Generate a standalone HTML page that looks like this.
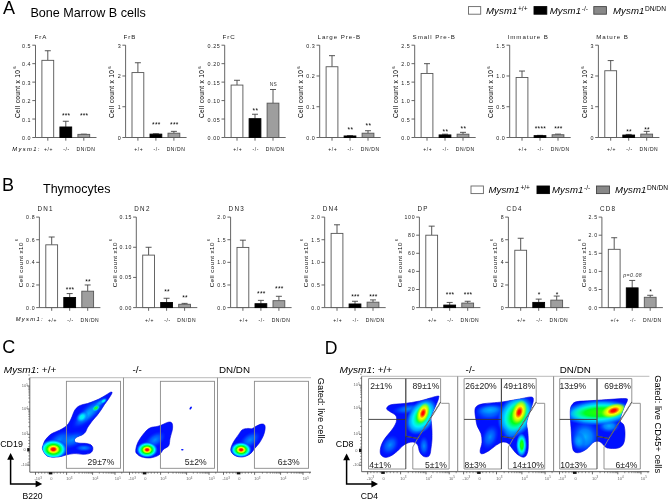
<!DOCTYPE html>
<html><head><meta charset="utf-8"><style>
html,body{margin:0;padding:0;background:#fff;}
svg{display:block;font-family:"Liberation Sans", sans-serif;filter:blur(0.3px);}
</style></head><body>
<svg width="669" height="500" viewBox="0 0 669 500">
<defs><radialGradient id="heat" cx="0.5" cy="0.5" r="0.5"><stop offset="0" stop-color="#ff0000" stop-opacity="1"/><stop offset="0.13" stop-color="#ff1000" stop-opacity="1"/><stop offset="0.21" stop-color="#ff9000" stop-opacity="1"/><stop offset="0.28" stop-color="#ffff00" stop-opacity="1"/><stop offset="0.36" stop-color="#a0ff00" stop-opacity="1"/><stop offset="0.46" stop-color="#00ff00" stop-opacity="1"/><stop offset="0.57" stop-color="#00ff80" stop-opacity="1"/><stop offset="0.69" stop-color="#00ffff" stop-opacity="1"/><stop offset="0.79" stop-color="#00a8ff" stop-opacity="1"/><stop offset="0.89" stop-color="#0060ff" stop-opacity="0.7"/><stop offset="1" stop-color="#0030ff" stop-opacity="0"/></radialGradient><radialGradient id="cyan" cx="0.5" cy="0.5" r="0.5"><stop offset="0" stop-color="#00ffe0" stop-opacity="1"/><stop offset="0.35" stop-color="#00e8ff" stop-opacity="1"/><stop offset="0.65" stop-color="#00a0ff" stop-opacity="0.7"/><stop offset="1" stop-color="#0040ff" stop-opacity="0"/></radialGradient><radialGradient id="lblue" cx="0.5" cy="0.5" r="0.5"><stop offset="0" stop-color="#0090ff" stop-opacity="1"/><stop offset="0.5" stop-color="#0070ff" stop-opacity="0.7"/><stop offset="1" stop-color="#0040ff" stop-opacity="0"/></radialGradient><radialGradient id="green" cx="0.5" cy="0.5" r="0.5"><stop offset="0" stop-color="#60ff00" stop-opacity="1"/><stop offset="0.3" stop-color="#00ff40" stop-opacity="1"/><stop offset="0.6" stop-color="#00f0d0" stop-opacity="0.8"/><stop offset="1" stop-color="#00a0ff" stop-opacity="0"/></radialGradient><radialGradient id="core" cx="0.5" cy="0.5" r="0.5"><stop offset="0" stop-color="#ff0000" stop-opacity="1"/><stop offset="0.3" stop-color="#ff1000" stop-opacity="1"/><stop offset="0.5" stop-color="#ff8000" stop-opacity="1"/><stop offset="0.68" stop-color="#ffff00" stop-opacity="1"/><stop offset="0.84" stop-color="#b0ff00" stop-opacity="0.7"/><stop offset="1" stop-color="#60ff00" stop-opacity="0"/></radialGradient><radialGradient id="core2" cx="0.5" cy="0.5" r="0.5"><stop offset="0" stop-color="#ff0000" stop-opacity="1"/><stop offset="0.18" stop-color="#ff1000" stop-opacity="1"/><stop offset="0.34" stop-color="#ff8000" stop-opacity="1"/><stop offset="0.5" stop-color="#ffff00" stop-opacity="1"/><stop offset="0.72" stop-color="#c0ff00" stop-opacity="0.85"/><stop offset="1" stop-color="#80ff00" stop-opacity="0"/></radialGradient><radialGradient id="lb2" cx="0.5" cy="0.5" r="0.5"><stop offset="0" stop-color="#00b0ff" stop-opacity="1"/><stop offset="0.45" stop-color="#0090ff" stop-opacity="0.85"/><stop offset="1" stop-color="#0050ff" stop-opacity="0"/></radialGradient><radialGradient id="greenb" cx="0.5" cy="0.5" r="0.5"><stop offset="0" stop-color="#30ff00" stop-opacity="1"/><stop offset="0.5" stop-color="#00ff20" stop-opacity="1"/><stop offset="0.75" stop-color="#00ff90" stop-opacity="0.7"/><stop offset="1" stop-color="#00ffd0" stop-opacity="0"/></radialGradient><radialGradient id="cyanb" cx="0.5" cy="0.5" r="0.5"><stop offset="0" stop-color="#00ffe0" stop-opacity="1"/><stop offset="0.55" stop-color="#00f0ff" stop-opacity="1"/><stop offset="0.75" stop-color="#00b0ff" stop-opacity="0.9"/><stop offset="0.9" stop-color="#0070ff" stop-opacity="0.5"/><stop offset="1" stop-color="#0040ff" stop-opacity="0"/></radialGradient><clipPath id="cb1"><path d="M42.60,449.60 C41.88,447.70 42.70,446.47 43.20,444.80 C43.70,443.13 44.22,441.43 45.60,439.60 C46.98,437.77 49.18,435.37 51.50,433.80 C53.82,432.23 57.25,431.33 59.50,430.20 C61.75,429.07 63.50,428.12 65.00,427.00 C66.50,425.88 67.50,424.83 68.50,423.50 C69.50,422.17 70.28,420.50 71.00,419.00 C71.72,417.50 72.25,415.83 72.80,414.50 C73.35,413.17 73.73,412.03 74.30,411.00 C74.87,409.97 75.42,409.13 76.20,408.30 C76.98,407.47 77.87,406.63 79.00,406.00 C80.13,405.37 81.58,404.92 83.00,404.50 C84.42,404.08 85.83,404.00 87.50,403.50 C89.17,403.00 91.08,402.25 93.00,401.50 C94.92,400.75 96.83,400.08 99.00,399.00 C101.17,397.92 104.08,396.13 106.00,395.00 C107.92,393.87 109.50,392.53 110.50,392.20 C111.50,391.87 112.33,391.87 112.00,393.00 C111.67,394.13 109.75,397.08 108.50,399.00 C107.25,400.92 105.75,402.67 104.50,404.50 C103.25,406.33 102.25,408.17 101.00,410.00 C99.75,411.83 98.33,413.83 97.00,415.50 C95.67,417.17 94.17,418.58 93.00,420.00 C91.83,421.42 90.95,422.67 90.00,424.00 C89.05,425.33 88.05,426.67 87.30,428.00 C86.55,429.33 86.38,430.83 85.50,432.00 C84.62,433.17 83.42,434.17 82.00,435.00 C80.58,435.83 78.25,436.25 77.00,437.00 C75.75,437.75 74.75,438.62 74.50,439.50 C74.25,440.38 74.58,441.68 75.50,442.30 C76.42,442.92 78.25,443.02 80.00,443.20 C81.75,443.38 84.25,443.17 86.00,443.40 C87.75,443.63 89.37,443.90 90.50,444.60 C91.63,445.30 92.52,446.50 92.80,447.60 C93.08,448.70 92.83,450.20 92.20,451.20 C91.57,452.20 90.53,453.08 89.00,453.60 C87.47,454.12 85.50,454.30 83.00,454.30 C80.50,454.30 76.83,453.48 74.00,453.60 C71.17,453.72 68.63,454.43 66.00,455.00 C63.37,455.57 61.28,456.80 58.20,457.00 C55.12,457.20 50.10,457.43 47.50,456.20 C44.90,454.97 43.32,451.50 42.60,449.60Z"/></clipPath><clipPath id="cb2"><path d="M135.70,450.40 C135.85,448.37 136.60,444.88 138.10,441.90 C139.60,438.92 142.67,434.85 144.70,432.50 C146.73,430.15 148.27,428.80 150.30,427.80 C152.33,426.80 155.02,426.97 156.90,426.50 C158.78,426.03 159.72,425.72 161.60,425.00 C163.48,424.28 166.48,422.52 168.20,422.20 C169.92,421.88 171.18,422.00 171.90,423.10 C172.62,424.20 172.80,426.28 172.50,428.80 C172.20,431.32 170.73,435.38 170.10,438.20 C169.47,441.02 169.80,443.83 168.70,445.70 C167.60,447.57 165.15,447.83 163.50,449.40 C161.85,450.97 161.00,453.68 158.80,455.10 C156.60,456.52 153.12,457.58 150.30,457.90 C147.48,458.22 144.08,457.63 141.90,457.00 C139.72,456.37 138.23,455.20 137.20,454.10 C136.17,453.00 135.55,452.43 135.70,450.40Z"/></clipPath><clipPath id="cb3"><path d="M230.80,450.40 C230.48,448.30 231.68,445.57 233.00,442.90 C234.32,440.23 237.13,436.60 238.70,434.40 C240.27,432.20 240.83,430.70 242.40,429.70 C243.97,428.70 246.53,428.55 248.10,428.40 C249.67,428.25 250.55,429.12 251.80,428.80 C253.05,428.48 254.03,427.28 255.60,426.50 C257.17,425.72 259.70,424.35 261.20,424.10 C262.70,423.85 263.97,424.07 264.60,425.00 C265.23,425.93 265.25,427.82 265.00,429.70 C264.75,431.58 264.03,434.10 263.10,436.30 C262.17,438.50 260.80,440.87 259.40,442.90 C258.00,444.93 256.27,446.63 254.70,448.50 C253.13,450.37 252.05,452.68 250.00,454.10 C247.95,455.52 244.92,456.77 242.40,457.00 C239.88,457.23 236.83,456.60 234.90,455.50 C232.97,454.40 231.12,452.50 230.80,450.40Z"/></clipPath><clipPath id="db1"><path d="M386.60,408.60 C386.77,407.48 387.87,405.65 390.80,404.80 C393.73,403.95 399.40,404.13 404.20,403.50 C409.00,402.87 414.13,402.22 419.60,401.00 C425.07,399.78 433.83,396.67 437.00,396.20 C440.17,395.73 438.78,396.65 438.60,398.20 C438.42,399.75 436.90,403.10 435.90,405.50 C434.90,407.90 433.42,410.50 432.60,412.60 C431.78,414.70 431.18,416.27 431.00,418.10 C430.82,419.93 431.33,421.40 431.50,423.60 C431.67,425.80 431.92,428.73 432.00,431.30 C432.08,433.87 432.08,436.80 432.00,439.00 C431.92,441.20 431.68,442.83 431.50,444.50 C431.32,446.17 431.12,447.50 430.90,449.00 C430.68,450.50 430.65,452.23 430.20,453.50 C429.75,454.77 429.33,456.13 428.20,456.60 C427.07,457.07 424.83,457.10 423.40,456.30 C421.97,455.50 420.55,453.67 419.60,451.80 C418.65,449.93 418.67,446.70 417.70,445.10 C416.73,443.50 415.57,442.52 413.80,442.20 C412.03,441.88 409.07,442.48 407.10,443.20 C405.13,443.92 403.63,445.17 402.00,446.50 C400.37,447.83 399.22,449.60 397.30,451.20 C395.38,452.80 392.60,455.08 390.50,456.10 C388.40,457.12 386.32,457.57 384.70,457.30 C383.08,457.03 381.53,455.80 380.80,454.50 C380.07,453.20 380.10,451.33 380.30,449.50 C380.50,447.67 381.13,445.48 382.00,443.50 C382.87,441.52 384.00,439.68 385.50,437.60 C387.00,435.52 389.42,433.10 391.00,431.00 C392.58,428.90 394.07,426.83 395.00,425.00 C395.93,423.17 396.50,421.60 396.60,420.00 C396.70,418.40 396.73,416.82 395.60,415.40 C394.47,413.98 391.30,412.63 389.80,411.50 C388.30,410.37 386.43,409.72 386.60,408.60Z"/></clipPath><clipPath id="db2"><path d="M474.90,411.50 C474.98,409.58 474.85,407.98 476.20,406.70 C477.55,405.42 478.67,404.60 483.00,403.80 C487.33,403.00 496.13,402.70 502.20,401.90 C508.27,401.10 514.53,399.82 519.40,399.00 C524.27,398.18 529.08,396.70 531.40,397.00 C533.72,397.30 533.42,398.75 533.30,400.80 C533.18,402.85 531.57,406.58 530.70,409.30 C529.83,412.02 528.78,414.72 528.10,417.10 C527.42,419.48 526.68,421.45 526.60,423.60 C526.52,425.75 527.33,427.60 527.60,430.00 C527.87,432.40 528.12,434.75 528.20,438.00 C528.28,441.25 528.43,446.58 528.10,449.50 C527.77,452.42 527.00,454.22 526.20,455.50 C525.40,456.78 524.43,457.17 523.30,457.20 C522.17,457.23 520.68,456.43 519.40,455.70 C518.12,454.97 516.87,454.08 515.60,452.80 C514.33,451.52 513.08,449.60 511.80,448.00 C510.52,446.40 509.50,444.17 507.90,443.20 C506.30,442.23 504.12,441.88 502.20,442.20 C500.28,442.52 498.65,443.65 496.40,445.10 C494.15,446.55 491.10,449.45 488.70,450.90 C486.30,452.35 483.43,453.80 482.00,453.80 C480.57,453.80 480.10,452.83 480.10,450.90 C480.10,448.97 481.85,445.08 482.00,442.20 C482.15,439.32 481.80,436.32 481.00,433.60 C480.20,430.88 478.08,428.47 477.20,425.90 C476.32,423.33 476.08,420.60 475.70,418.20 C475.32,415.80 474.82,413.42 474.90,411.50Z"/></clipPath><clipPath id="db3"><path d="M570.40,409.40 C570.70,407.00 571.10,405.90 572.20,404.60 C573.30,403.30 573.70,402.27 577.00,401.60 C580.30,400.93 586.33,400.98 592.00,400.60 C597.67,400.22 605.50,399.63 611.00,399.30 C616.50,398.97 622.27,398.42 625.00,398.60 C627.73,398.78 627.60,398.80 627.40,400.40 C627.20,402.00 625.00,404.90 623.80,408.20 C622.60,411.50 620.20,417.40 620.20,420.20 C620.20,423.00 623.00,422.80 623.80,425.00 C624.60,427.20 625.00,430.40 625.00,433.40 C625.00,436.40 624.80,440.60 623.80,443.00 C622.80,445.40 621.20,446.90 619.00,447.80 C616.80,448.70 612.80,448.50 610.60,448.40 C608.40,448.30 607.40,448.20 605.80,447.20 C604.20,446.20 602.50,443.40 601.00,442.40 C599.50,441.40 598.20,441.10 596.80,441.20 C595.40,441.30 594.30,441.70 592.60,443.00 C590.90,444.30 588.80,447.40 586.60,449.00 C584.40,450.60 581.50,452.20 579.40,452.60 C577.30,453.00 575.20,452.60 574.00,451.40 C572.80,450.20 572.60,447.80 572.20,445.40 C571.80,443.00 571.80,440.00 571.60,437.00 C571.40,434.00 571.20,430.40 571.00,427.40 C570.80,424.40 570.50,422.00 570.40,419.00 C570.30,416.00 570.10,411.80 570.40,409.40Z"/></clipPath></defs>
<rect width="669" height="500" fill="#fff"/>
<text x="3.00" y="13.80" text-anchor="start" fill="#000" style="font-size:18px;" >A</text>
<text x="30.40" y="17.10" text-anchor="start" fill="#000" style="font-size:12.6px;" >Bone Marrow B cells</text>
<text x="2.00" y="190.80" text-anchor="start" fill="#000" style="font-size:18px;" >B</text>
<text x="43.00" y="193.20" text-anchor="start" fill="#000" style="font-size:12.5px;" >Thymocytes</text>
<text x="2.20" y="352.80" text-anchor="start" fill="#000" style="font-size:18px;" >C</text>
<text x="324.80" y="353.80" text-anchor="start" fill="#000" style="font-size:17.6px;" >D</text>
<rect x="468.50" y="6.60" width="12.20" height="7.60" fill="#fff" stroke="#666" stroke-width="0.9"/>
<text x="486.00" y="13.80" style="font-size:9.6px;font-style:italic;letter-spacing:0.1px">Mysm1<tspan dx="0.6" dy="-3.3" style="font-size:6.6px;font-style:normal;letter-spacing:0">+/+</tspan></text>
<rect x="534.00" y="6.60" width="12.80" height="7.60" fill="#000" stroke="#000" stroke-width="0.9"/>
<text x="549.70" y="13.80" style="font-size:9.6px;font-style:italic;letter-spacing:0.1px">Mysm1<tspan dx="0.6" dy="-3.3" style="font-size:6.6px;font-style:normal;letter-spacing:0">-/-</tspan></text>
<rect x="593.80" y="6.60" width="12.60" height="7.60" fill="#888" stroke="#444" stroke-width="0.9"/>
<text x="613.00" y="13.80" style="font-size:9.6px;font-style:italic;letter-spacing:0.1px">Mysm1<tspan dx="0.6" dy="-3.3" style="font-size:6.6px;font-style:normal;letter-spacing:0">DN/DN</tspan></text>
<rect x="471.00" y="186.00" width="12.40" height="7.60" fill="#fff" stroke="#666" stroke-width="0.9"/>
<text x="488.40" y="193.20" style="font-size:9.6px;font-style:italic;letter-spacing:0.1px">Mysm1<tspan dx="0.6" dy="-3.3" style="font-size:6.6px;font-style:normal;letter-spacing:0">+/+</tspan></text>
<rect x="537.00" y="186.00" width="12.40" height="7.60" fill="#000" stroke="#000" stroke-width="0.9"/>
<text x="552.00" y="193.20" style="font-size:9.6px;font-style:italic;letter-spacing:0.1px">Mysm1<tspan dx="0.6" dy="-3.3" style="font-size:6.6px;font-style:normal;letter-spacing:0">-/-</tspan></text>
<rect x="596.50" y="186.00" width="13.00" height="7.60" fill="#888" stroke="#444" stroke-width="0.9"/>
<text x="615.10" y="193.20" style="font-size:9.6px;font-style:italic;letter-spacing:0.1px">Mysm1<tspan dx="0.6" dy="-3.3" style="font-size:6.6px;font-style:normal;letter-spacing:0">DN/DN</tspan></text>
<line x1="35.50" y1="45.20" x2="35.50" y2="137.50" stroke="#555" stroke-width="0.9"/>
<line x1="32.30" y1="137.50" x2="35.50" y2="137.50" stroke="#555" stroke-width="0.9"/>
<text x="31.10" y="140.00" text-anchor="end" fill="#222" style="font-size:5.4px;letter-spacing:0.55px;" >0.0</text>
<line x1="32.30" y1="119.04" x2="35.50" y2="119.04" stroke="#555" stroke-width="0.9"/>
<text x="31.10" y="121.54" text-anchor="end" fill="#222" style="font-size:5.4px;letter-spacing:0.55px;" >0.1</text>
<line x1="32.30" y1="100.58" x2="35.50" y2="100.58" stroke="#555" stroke-width="0.9"/>
<text x="31.10" y="103.08" text-anchor="end" fill="#222" style="font-size:5.4px;letter-spacing:0.55px;" >0.2</text>
<line x1="32.30" y1="82.12" x2="35.50" y2="82.12" stroke="#555" stroke-width="0.9"/>
<text x="31.10" y="84.62" text-anchor="end" fill="#222" style="font-size:5.4px;letter-spacing:0.55px;" >0.3</text>
<line x1="32.30" y1="63.66" x2="35.50" y2="63.66" stroke="#555" stroke-width="0.9"/>
<text x="31.10" y="66.16" text-anchor="end" fill="#222" style="font-size:5.4px;letter-spacing:0.55px;" >0.4</text>
<line x1="32.30" y1="45.20" x2="35.50" y2="45.20" stroke="#555" stroke-width="0.9"/>
<text x="31.10" y="47.70" text-anchor="end" fill="#222" style="font-size:5.4px;letter-spacing:0.55px;" >0.5</text>
<line x1="35.50" y1="137.50" x2="96.50" y2="137.50" stroke="#555" stroke-width="0.9"/>
<line x1="47.80" y1="137.50" x2="47.80" y2="140.70" stroke="#555" stroke-width="0.9"/>
<line x1="65.80" y1="137.50" x2="65.80" y2="140.70" stroke="#555" stroke-width="0.9"/>
<line x1="83.80" y1="137.50" x2="83.80" y2="140.70" stroke="#555" stroke-width="0.9"/>
<line x1="47.80" y1="50.74" x2="47.80" y2="60.34" stroke="#444" stroke-width="0.9"/>
<line x1="44.80" y1="50.74" x2="50.80" y2="50.74" stroke="#444" stroke-width="0.9"/>
<rect x="41.90" y="60.34" width="11.80" height="77.16" fill="#fff" stroke="#555" stroke-width="0.9"/>
<line x1="65.80" y1="121.26" x2="65.80" y2="126.98" stroke="#444" stroke-width="0.9"/>
<line x1="62.80" y1="121.26" x2="68.80" y2="121.26" stroke="#444" stroke-width="0.9"/>
<rect x="59.90" y="126.98" width="11.80" height="10.52" fill="#000" stroke="#000" stroke-width="0.9"/>
<line x1="83.80" y1="134.18" x2="83.80" y2="134.36" stroke="#444" stroke-width="0.9"/>
<line x1="80.80" y1="134.18" x2="86.80" y2="134.18" stroke="#444" stroke-width="0.9"/>
<rect x="77.90" y="134.36" width="11.80" height="3.14" fill="#9e9e9e" stroke="#555" stroke-width="0.9"/>
<text x="66.20" y="117.80" text-anchor="middle" fill="#000" style="font-size:6.6px;letter-spacing:0.25px;" >***</text>
<text x="84.20" y="117.80" text-anchor="middle" fill="#000" style="font-size:6.6px;letter-spacing:0.25px;" >***</text>
<text x="34.50" y="39.40" text-anchor="start" fill="#222" style="font-size:6.2px;letter-spacing:0.92px;" >FrA</text>
<text transform="translate(19.70,118.00) rotate(-90)" style="font-size:6.6px;letter-spacing:0.3px" fill="#000">Cell count x 10<tspan dx="1.2" dy="-3.4" style="font-size:4.2px">6</tspan></text>
<line x1="125.60" y1="45.20" x2="125.60" y2="137.50" stroke="#555" stroke-width="0.9"/>
<line x1="122.40" y1="137.50" x2="125.60" y2="137.50" stroke="#555" stroke-width="0.9"/>
<text x="121.20" y="140.00" text-anchor="end" fill="#222" style="font-size:5.4px;letter-spacing:0.55px;" >0</text>
<line x1="122.40" y1="106.73" x2="125.60" y2="106.73" stroke="#555" stroke-width="0.9"/>
<text x="121.20" y="109.23" text-anchor="end" fill="#222" style="font-size:5.4px;letter-spacing:0.55px;" >1</text>
<line x1="122.40" y1="75.97" x2="125.60" y2="75.97" stroke="#555" stroke-width="0.9"/>
<text x="121.20" y="78.47" text-anchor="end" fill="#222" style="font-size:5.4px;letter-spacing:0.55px;" >2</text>
<line x1="122.40" y1="45.20" x2="125.60" y2="45.20" stroke="#555" stroke-width="0.9"/>
<text x="121.20" y="47.70" text-anchor="end" fill="#222" style="font-size:5.4px;letter-spacing:0.55px;" >3</text>
<line x1="125.60" y1="137.50" x2="186.60" y2="137.50" stroke="#555" stroke-width="0.9"/>
<line x1="137.90" y1="137.50" x2="137.90" y2="140.70" stroke="#555" stroke-width="0.9"/>
<line x1="155.90" y1="137.50" x2="155.90" y2="140.70" stroke="#555" stroke-width="0.9"/>
<line x1="173.90" y1="137.50" x2="173.90" y2="140.70" stroke="#555" stroke-width="0.9"/>
<line x1="137.90" y1="62.74" x2="137.90" y2="72.58" stroke="#444" stroke-width="0.9"/>
<line x1="134.90" y1="62.74" x2="140.90" y2="62.74" stroke="#444" stroke-width="0.9"/>
<rect x="132.00" y="72.58" width="11.80" height="64.92" fill="#fff" stroke="#555" stroke-width="0.9"/>
<line x1="155.90" y1="133.81" x2="155.90" y2="134.12" stroke="#444" stroke-width="0.9"/>
<line x1="152.90" y1="133.81" x2="158.90" y2="133.81" stroke="#444" stroke-width="0.9"/>
<rect x="150.00" y="134.12" width="11.80" height="3.38" fill="#000" stroke="#000" stroke-width="0.9"/>
<line x1="173.90" y1="131.35" x2="173.90" y2="133.19" stroke="#444" stroke-width="0.9"/>
<line x1="170.90" y1="131.35" x2="176.90" y2="131.35" stroke="#444" stroke-width="0.9"/>
<rect x="168.00" y="133.19" width="11.80" height="4.31" fill="#9e9e9e" stroke="#555" stroke-width="0.9"/>
<text x="156.30" y="127.40" text-anchor="middle" fill="#000" style="font-size:6.6px;letter-spacing:0.25px;" >***</text>
<text x="174.30" y="127.40" text-anchor="middle" fill="#000" style="font-size:6.6px;letter-spacing:0.25px;" >***</text>
<text x="123.50" y="39.40" text-anchor="start" fill="#222" style="font-size:6.2px;letter-spacing:0.92px;" >FrB</text>
<text transform="translate(114.20,118.00) rotate(-90)" style="font-size:6.6px;letter-spacing:0.3px" fill="#000">Cell count x 10<tspan dx="1.2" dy="-3.4" style="font-size:4.2px">6</tspan></text>
<line x1="224.70" y1="45.20" x2="224.70" y2="137.50" stroke="#555" stroke-width="0.9"/>
<line x1="221.50" y1="137.50" x2="224.70" y2="137.50" stroke="#555" stroke-width="0.9"/>
<text x="220.30" y="140.00" text-anchor="end" fill="#222" style="font-size:5.4px;letter-spacing:0.55px;" >0.00</text>
<line x1="221.50" y1="119.04" x2="224.70" y2="119.04" stroke="#555" stroke-width="0.9"/>
<text x="220.30" y="121.54" text-anchor="end" fill="#222" style="font-size:5.4px;letter-spacing:0.55px;" >0.05</text>
<line x1="221.50" y1="100.58" x2="224.70" y2="100.58" stroke="#555" stroke-width="0.9"/>
<text x="220.30" y="103.08" text-anchor="end" fill="#222" style="font-size:5.4px;letter-spacing:0.55px;" >0.10</text>
<line x1="221.50" y1="82.12" x2="224.70" y2="82.12" stroke="#555" stroke-width="0.9"/>
<text x="220.30" y="84.62" text-anchor="end" fill="#222" style="font-size:5.4px;letter-spacing:0.55px;" >0.15</text>
<line x1="221.50" y1="63.66" x2="224.70" y2="63.66" stroke="#555" stroke-width="0.9"/>
<text x="220.30" y="66.16" text-anchor="end" fill="#222" style="font-size:5.4px;letter-spacing:0.55px;" >0.20</text>
<line x1="221.50" y1="45.20" x2="224.70" y2="45.20" stroke="#555" stroke-width="0.9"/>
<text x="220.30" y="47.70" text-anchor="end" fill="#222" style="font-size:5.4px;letter-spacing:0.55px;" >0.25</text>
<line x1="224.70" y1="137.50" x2="285.70" y2="137.50" stroke="#555" stroke-width="0.9"/>
<line x1="237.00" y1="137.50" x2="237.00" y2="140.70" stroke="#555" stroke-width="0.9"/>
<line x1="255.00" y1="137.50" x2="255.00" y2="140.70" stroke="#555" stroke-width="0.9"/>
<line x1="273.00" y1="137.50" x2="273.00" y2="140.70" stroke="#555" stroke-width="0.9"/>
<line x1="237.00" y1="80.27" x2="237.00" y2="85.07" stroke="#444" stroke-width="0.9"/>
<line x1="234.00" y1="80.27" x2="240.00" y2="80.27" stroke="#444" stroke-width="0.9"/>
<rect x="231.10" y="85.07" width="11.80" height="52.43" fill="#fff" stroke="#555" stroke-width="0.9"/>
<line x1="255.00" y1="114.24" x2="255.00" y2="118.67" stroke="#444" stroke-width="0.9"/>
<line x1="252.00" y1="114.24" x2="258.00" y2="114.24" stroke="#444" stroke-width="0.9"/>
<rect x="249.10" y="118.67" width="11.80" height="18.83" fill="#000" stroke="#000" stroke-width="0.9"/>
<line x1="273.00" y1="89.50" x2="273.00" y2="103.16" stroke="#444" stroke-width="0.9"/>
<line x1="270.00" y1="89.50" x2="276.00" y2="89.50" stroke="#444" stroke-width="0.9"/>
<rect x="267.10" y="103.16" width="11.80" height="34.34" fill="#9e9e9e" stroke="#555" stroke-width="0.9"/>
<text x="255.40" y="113.10" text-anchor="middle" fill="#000" style="font-size:6.6px;letter-spacing:0.25px;" >**</text>
<text x="273.30" y="86.30" text-anchor="middle" fill="#333" style="font-size:4.8px;letter-spacing:0.2px;" >NS</text>
<text x="222.60" y="39.40" text-anchor="start" fill="#222" style="font-size:6.2px;letter-spacing:0.92px;" >FrC</text>
<text transform="translate(204.10,118.00) rotate(-90)" style="font-size:6.6px;letter-spacing:0.3px" fill="#000">Cell count x 10<tspan dx="1.2" dy="-3.4" style="font-size:4.2px">6</tspan></text>
<line x1="319.70" y1="45.20" x2="319.70" y2="137.50" stroke="#555" stroke-width="0.9"/>
<line x1="316.50" y1="137.50" x2="319.70" y2="137.50" stroke="#555" stroke-width="0.9"/>
<text x="315.30" y="140.00" text-anchor="end" fill="#222" style="font-size:5.4px;letter-spacing:0.55px;" >0.0</text>
<line x1="316.50" y1="106.73" x2="319.70" y2="106.73" stroke="#555" stroke-width="0.9"/>
<text x="315.30" y="109.23" text-anchor="end" fill="#222" style="font-size:5.4px;letter-spacing:0.55px;" >0.1</text>
<line x1="316.50" y1="75.97" x2="319.70" y2="75.97" stroke="#555" stroke-width="0.9"/>
<text x="315.30" y="78.47" text-anchor="end" fill="#222" style="font-size:5.4px;letter-spacing:0.55px;" >0.2</text>
<line x1="316.50" y1="45.20" x2="319.70" y2="45.20" stroke="#555" stroke-width="0.9"/>
<text x="315.30" y="47.70" text-anchor="end" fill="#222" style="font-size:5.4px;letter-spacing:0.55px;" >0.3</text>
<line x1="319.70" y1="137.50" x2="380.70" y2="137.50" stroke="#555" stroke-width="0.9"/>
<line x1="332.00" y1="137.50" x2="332.00" y2="140.70" stroke="#555" stroke-width="0.9"/>
<line x1="350.00" y1="137.50" x2="350.00" y2="140.70" stroke="#555" stroke-width="0.9"/>
<line x1="368.00" y1="137.50" x2="368.00" y2="140.70" stroke="#555" stroke-width="0.9"/>
<line x1="332.00" y1="55.66" x2="332.00" y2="66.74" stroke="#444" stroke-width="0.9"/>
<line x1="329.00" y1="55.66" x2="335.00" y2="55.66" stroke="#444" stroke-width="0.9"/>
<rect x="326.10" y="66.74" width="11.80" height="70.76" fill="#fff" stroke="#555" stroke-width="0.9"/>
<line x1="350.00" y1="135.65" x2="350.00" y2="135.96" stroke="#444" stroke-width="0.9"/>
<line x1="347.00" y1="135.65" x2="353.00" y2="135.65" stroke="#444" stroke-width="0.9"/>
<rect x="344.10" y="135.96" width="11.80" height="1.54" fill="#000" stroke="#000" stroke-width="0.9"/>
<line x1="368.00" y1="130.73" x2="368.00" y2="133.19" stroke="#444" stroke-width="0.9"/>
<line x1="365.00" y1="130.73" x2="371.00" y2="130.73" stroke="#444" stroke-width="0.9"/>
<rect x="362.10" y="133.19" width="11.80" height="4.31" fill="#9e9e9e" stroke="#555" stroke-width="0.9"/>
<text x="350.40" y="132.40" text-anchor="middle" fill="#000" style="font-size:6.6px;letter-spacing:0.25px;" >**</text>
<text x="368.40" y="127.60" text-anchor="middle" fill="#000" style="font-size:6.6px;letter-spacing:0.25px;" >**</text>
<text x="317.60" y="39.40" text-anchor="start" fill="#222" style="font-size:6.2px;letter-spacing:0.92px;" >Large Pre-B</text>
<text transform="translate(302.90,118.00) rotate(-90)" style="font-size:6.6px;letter-spacing:0.3px" fill="#000">Cell count x 10<tspan dx="1.2" dy="-3.4" style="font-size:4.2px">6</tspan></text>
<line x1="414.70" y1="45.20" x2="414.70" y2="137.50" stroke="#555" stroke-width="0.9"/>
<line x1="411.50" y1="137.50" x2="414.70" y2="137.50" stroke="#555" stroke-width="0.9"/>
<text x="410.30" y="140.00" text-anchor="end" fill="#222" style="font-size:5.4px;letter-spacing:0.55px;" >0.0</text>
<line x1="411.50" y1="119.04" x2="414.70" y2="119.04" stroke="#555" stroke-width="0.9"/>
<text x="410.30" y="121.54" text-anchor="end" fill="#222" style="font-size:5.4px;letter-spacing:0.55px;" >0.5</text>
<line x1="411.50" y1="100.58" x2="414.70" y2="100.58" stroke="#555" stroke-width="0.9"/>
<text x="410.30" y="103.08" text-anchor="end" fill="#222" style="font-size:5.4px;letter-spacing:0.55px;" >1.0</text>
<line x1="411.50" y1="82.12" x2="414.70" y2="82.12" stroke="#555" stroke-width="0.9"/>
<text x="410.30" y="84.62" text-anchor="end" fill="#222" style="font-size:5.4px;letter-spacing:0.55px;" >1.5</text>
<line x1="411.50" y1="63.66" x2="414.70" y2="63.66" stroke="#555" stroke-width="0.9"/>
<text x="410.30" y="66.16" text-anchor="end" fill="#222" style="font-size:5.4px;letter-spacing:0.55px;" >2.0</text>
<line x1="411.50" y1="45.20" x2="414.70" y2="45.20" stroke="#555" stroke-width="0.9"/>
<text x="410.30" y="47.70" text-anchor="end" fill="#222" style="font-size:5.4px;letter-spacing:0.55px;" >2.5</text>
<line x1="414.70" y1="137.50" x2="475.70" y2="137.50" stroke="#555" stroke-width="0.9"/>
<line x1="427.00" y1="137.50" x2="427.00" y2="140.70" stroke="#555" stroke-width="0.9"/>
<line x1="445.00" y1="137.50" x2="445.00" y2="140.70" stroke="#555" stroke-width="0.9"/>
<line x1="463.00" y1="137.50" x2="463.00" y2="140.70" stroke="#555" stroke-width="0.9"/>
<line x1="427.00" y1="63.66" x2="427.00" y2="73.44" stroke="#444" stroke-width="0.9"/>
<line x1="424.00" y1="63.66" x2="430.00" y2="63.66" stroke="#444" stroke-width="0.9"/>
<rect x="421.10" y="73.44" width="11.80" height="64.06" fill="#fff" stroke="#555" stroke-width="0.9"/>
<line x1="445.00" y1="134.18" x2="445.00" y2="134.92" stroke="#444" stroke-width="0.9"/>
<line x1="442.00" y1="134.18" x2="448.00" y2="134.18" stroke="#444" stroke-width="0.9"/>
<rect x="439.10" y="134.92" width="11.80" height="2.58" fill="#000" stroke="#000" stroke-width="0.9"/>
<line x1="463.00" y1="132.33" x2="463.00" y2="134.18" stroke="#444" stroke-width="0.9"/>
<line x1="460.00" y1="132.33" x2="466.00" y2="132.33" stroke="#444" stroke-width="0.9"/>
<rect x="457.10" y="134.18" width="11.80" height="3.32" fill="#9e9e9e" stroke="#555" stroke-width="0.9"/>
<text x="445.40" y="133.60" text-anchor="middle" fill="#000" style="font-size:6.6px;letter-spacing:0.25px;" >**</text>
<text x="463.40" y="131.40" text-anchor="middle" fill="#000" style="font-size:6.6px;letter-spacing:0.25px;" >**</text>
<text x="412.60" y="39.40" text-anchor="start" fill="#222" style="font-size:6.2px;letter-spacing:0.92px;" >Small Pre-B</text>
<text transform="translate(397.90,118.00) rotate(-90)" style="font-size:6.6px;letter-spacing:0.3px" fill="#000">Cell count x 10<tspan dx="1.2" dy="-3.4" style="font-size:4.2px">6</tspan></text>
<line x1="509.70" y1="45.20" x2="509.70" y2="137.50" stroke="#555" stroke-width="0.9"/>
<line x1="506.50" y1="137.50" x2="509.70" y2="137.50" stroke="#555" stroke-width="0.9"/>
<text x="505.30" y="140.00" text-anchor="end" fill="#222" style="font-size:5.4px;letter-spacing:0.55px;" >0.0</text>
<line x1="506.50" y1="106.73" x2="509.70" y2="106.73" stroke="#555" stroke-width="0.9"/>
<text x="505.30" y="109.23" text-anchor="end" fill="#222" style="font-size:5.4px;letter-spacing:0.55px;" >0.5</text>
<line x1="506.50" y1="75.97" x2="509.70" y2="75.97" stroke="#555" stroke-width="0.9"/>
<text x="505.30" y="78.47" text-anchor="end" fill="#222" style="font-size:5.4px;letter-spacing:0.55px;" >1.0</text>
<line x1="506.50" y1="45.20" x2="509.70" y2="45.20" stroke="#555" stroke-width="0.9"/>
<text x="505.30" y="47.70" text-anchor="end" fill="#222" style="font-size:5.4px;letter-spacing:0.55px;" >1.5</text>
<line x1="509.70" y1="137.50" x2="570.70" y2="137.50" stroke="#555" stroke-width="0.9"/>
<line x1="522.00" y1="137.50" x2="522.00" y2="140.70" stroke="#555" stroke-width="0.9"/>
<line x1="540.00" y1="137.50" x2="540.00" y2="140.70" stroke="#555" stroke-width="0.9"/>
<line x1="558.00" y1="137.50" x2="558.00" y2="140.70" stroke="#555" stroke-width="0.9"/>
<line x1="522.00" y1="71.04" x2="522.00" y2="77.50" stroke="#444" stroke-width="0.9"/>
<line x1="519.00" y1="71.04" x2="525.00" y2="71.04" stroke="#444" stroke-width="0.9"/>
<rect x="516.10" y="77.50" width="11.80" height="60.00" fill="#fff" stroke="#555" stroke-width="0.9"/>
<line x1="540.00" y1="135.35" x2="540.00" y2="135.65" stroke="#444" stroke-width="0.9"/>
<line x1="537.00" y1="135.35" x2="543.00" y2="135.35" stroke="#444" stroke-width="0.9"/>
<rect x="534.10" y="135.65" width="11.80" height="1.85" fill="#000" stroke="#000" stroke-width="0.9"/>
<line x1="558.00" y1="134.12" x2="558.00" y2="134.73" stroke="#444" stroke-width="0.9"/>
<line x1="555.00" y1="134.12" x2="561.00" y2="134.12" stroke="#444" stroke-width="0.9"/>
<rect x="552.10" y="134.73" width="11.80" height="2.77" fill="#9e9e9e" stroke="#555" stroke-width="0.9"/>
<text x="540.40" y="131.20" text-anchor="middle" fill="#000" style="font-size:6.6px;letter-spacing:0.25px;" >****</text>
<text x="558.40" y="131.20" text-anchor="middle" fill="#000" style="font-size:6.6px;letter-spacing:0.25px;" >***</text>
<text x="507.60" y="39.40" text-anchor="start" fill="#222" style="font-size:6.2px;letter-spacing:0.92px;" >Immature B</text>
<text transform="translate(492.90,118.00) rotate(-90)" style="font-size:6.6px;letter-spacing:0.3px" fill="#000">Cell count x 10<tspan dx="1.2" dy="-3.4" style="font-size:4.2px">6</tspan></text>
<line x1="598.40" y1="45.20" x2="598.40" y2="137.50" stroke="#555" stroke-width="0.9"/>
<line x1="595.20" y1="137.50" x2="598.40" y2="137.50" stroke="#555" stroke-width="0.9"/>
<text x="594.00" y="140.00" text-anchor="end" fill="#222" style="font-size:5.4px;letter-spacing:0.55px;" >0</text>
<line x1="595.20" y1="106.73" x2="598.40" y2="106.73" stroke="#555" stroke-width="0.9"/>
<text x="594.00" y="109.23" text-anchor="end" fill="#222" style="font-size:5.4px;letter-spacing:0.55px;" >1</text>
<line x1="595.20" y1="75.97" x2="598.40" y2="75.97" stroke="#555" stroke-width="0.9"/>
<text x="594.00" y="78.47" text-anchor="end" fill="#222" style="font-size:5.4px;letter-spacing:0.55px;" >2</text>
<line x1="595.20" y1="45.20" x2="598.40" y2="45.20" stroke="#555" stroke-width="0.9"/>
<text x="594.00" y="47.70" text-anchor="end" fill="#222" style="font-size:5.4px;letter-spacing:0.55px;" >3</text>
<line x1="598.40" y1="137.50" x2="659.40" y2="137.50" stroke="#555" stroke-width="0.9"/>
<line x1="610.70" y1="137.50" x2="610.70" y2="140.70" stroke="#555" stroke-width="0.9"/>
<line x1="628.70" y1="137.50" x2="628.70" y2="140.70" stroke="#555" stroke-width="0.9"/>
<line x1="646.70" y1="137.50" x2="646.70" y2="140.70" stroke="#555" stroke-width="0.9"/>
<line x1="610.70" y1="60.58" x2="610.70" y2="70.74" stroke="#444" stroke-width="0.9"/>
<line x1="607.70" y1="60.58" x2="613.70" y2="60.58" stroke="#444" stroke-width="0.9"/>
<rect x="604.80" y="70.74" width="11.80" height="66.76" fill="#fff" stroke="#555" stroke-width="0.9"/>
<line x1="628.70" y1="134.42" x2="628.70" y2="135.04" stroke="#444" stroke-width="0.9"/>
<line x1="625.70" y1="134.42" x2="631.70" y2="134.42" stroke="#444" stroke-width="0.9"/>
<rect x="622.80" y="135.04" width="11.80" height="2.46" fill="#000" stroke="#000" stroke-width="0.9"/>
<line x1="646.70" y1="131.35" x2="646.70" y2="134.12" stroke="#444" stroke-width="0.9"/>
<line x1="643.70" y1="131.35" x2="649.70" y2="131.35" stroke="#444" stroke-width="0.9"/>
<rect x="640.80" y="134.12" width="11.80" height="3.38" fill="#9e9e9e" stroke="#555" stroke-width="0.9"/>
<text x="629.10" y="134.00" text-anchor="middle" fill="#000" style="font-size:6.6px;letter-spacing:0.25px;" >**</text>
<text x="647.10" y="131.80" text-anchor="middle" fill="#000" style="font-size:6.6px;letter-spacing:0.25px;" >**</text>
<text x="596.30" y="39.40" text-anchor="start" fill="#222" style="font-size:6.2px;letter-spacing:0.92px;" >Mature B</text>
<text transform="translate(587.30,118.00) rotate(-90)" style="font-size:6.6px;letter-spacing:0.3px" fill="#000">Cell count x 10<tspan dx="1.2" dy="-3.4" style="font-size:4.2px">6</tspan></text>
<line x1="39.40" y1="217.10" x2="39.40" y2="307.60" stroke="#555" stroke-width="0.9"/>
<line x1="36.20" y1="307.60" x2="39.40" y2="307.60" stroke="#555" stroke-width="0.9"/>
<text x="35.20" y="309.55" text-anchor="end" fill="#222" style="font-size:5.2px;letter-spacing:0.65px;" >0.0</text>
<line x1="36.20" y1="284.98" x2="39.40" y2="284.98" stroke="#555" stroke-width="0.9"/>
<text x="35.20" y="286.93" text-anchor="end" fill="#222" style="font-size:5.2px;letter-spacing:0.65px;" >0.2</text>
<line x1="36.20" y1="262.35" x2="39.40" y2="262.35" stroke="#555" stroke-width="0.9"/>
<text x="35.20" y="264.30" text-anchor="end" fill="#222" style="font-size:5.2px;letter-spacing:0.65px;" >0.4</text>
<line x1="36.20" y1="239.72" x2="39.40" y2="239.72" stroke="#555" stroke-width="0.9"/>
<text x="35.20" y="241.67" text-anchor="end" fill="#222" style="font-size:5.2px;letter-spacing:0.65px;" >0.6</text>
<line x1="36.20" y1="217.10" x2="39.40" y2="217.10" stroke="#555" stroke-width="0.9"/>
<text x="35.20" y="219.05" text-anchor="end" fill="#222" style="font-size:5.2px;letter-spacing:0.65px;" >0.8</text>
<line x1="39.40" y1="307.60" x2="100.40" y2="307.60" stroke="#555" stroke-width="0.9"/>
<line x1="51.70" y1="307.60" x2="51.70" y2="310.80" stroke="#555" stroke-width="0.9"/>
<line x1="69.70" y1="307.60" x2="69.70" y2="310.80" stroke="#555" stroke-width="0.9"/>
<line x1="87.70" y1="307.60" x2="87.70" y2="310.80" stroke="#555" stroke-width="0.9"/>
<line x1="51.70" y1="237.01" x2="51.70" y2="244.82" stroke="#444" stroke-width="0.9"/>
<line x1="48.70" y1="237.01" x2="54.70" y2="237.01" stroke="#444" stroke-width="0.9"/>
<rect x="45.80" y="244.82" width="11.80" height="62.78" fill="#fff" stroke="#555" stroke-width="0.9"/>
<line x1="69.70" y1="293.57" x2="69.70" y2="297.53" stroke="#444" stroke-width="0.9"/>
<line x1="66.70" y1="293.57" x2="72.70" y2="293.57" stroke="#444" stroke-width="0.9"/>
<rect x="63.80" y="297.53" width="11.80" height="10.07" fill="#000" stroke="#000" stroke-width="0.9"/>
<line x1="87.70" y1="284.98" x2="87.70" y2="291.20" stroke="#444" stroke-width="0.9"/>
<line x1="84.70" y1="284.98" x2="90.70" y2="284.98" stroke="#444" stroke-width="0.9"/>
<rect x="81.80" y="291.20" width="11.80" height="16.40" fill="#9e9e9e" stroke="#555" stroke-width="0.9"/>
<text x="70.10" y="292.40" text-anchor="middle" fill="#000" style="font-size:6.6px;letter-spacing:0.25px;" >***</text>
<text x="88.10" y="283.60" text-anchor="middle" fill="#000" style="font-size:6.6px;letter-spacing:0.25px;" >**</text>
<text x="37.40" y="210.80" text-anchor="start" fill="#222" style="font-size:6.3px;letter-spacing:1.25px;" >DN1</text>
<text transform="translate(22.60,287.30) rotate(-90)" style="font-size:6.2px;letter-spacing:0.42px" fill="#000">Cell count x10<tspan dx="0.9" dy="-4.6" style="font-size:4.0px">6</tspan></text>
<line x1="136.30" y1="217.10" x2="136.30" y2="307.60" stroke="#555" stroke-width="0.9"/>
<line x1="133.10" y1="307.60" x2="136.30" y2="307.60" stroke="#555" stroke-width="0.9"/>
<text x="132.10" y="309.55" text-anchor="end" fill="#222" style="font-size:5.2px;letter-spacing:0.65px;" >0.00</text>
<line x1="133.10" y1="277.43" x2="136.30" y2="277.43" stroke="#555" stroke-width="0.9"/>
<text x="132.10" y="279.38" text-anchor="end" fill="#222" style="font-size:5.2px;letter-spacing:0.65px;" >0.05</text>
<line x1="133.10" y1="247.27" x2="136.30" y2="247.27" stroke="#555" stroke-width="0.9"/>
<text x="132.10" y="249.22" text-anchor="end" fill="#222" style="font-size:5.2px;letter-spacing:0.65px;" >0.10</text>
<line x1="133.10" y1="217.10" x2="136.30" y2="217.10" stroke="#555" stroke-width="0.9"/>
<text x="132.10" y="219.05" text-anchor="end" fill="#222" style="font-size:5.2px;letter-spacing:0.65px;" >0.15</text>
<line x1="136.30" y1="307.60" x2="197.30" y2="307.60" stroke="#555" stroke-width="0.9"/>
<line x1="148.60" y1="307.60" x2="148.60" y2="310.80" stroke="#555" stroke-width="0.9"/>
<line x1="166.60" y1="307.60" x2="166.60" y2="310.80" stroke="#555" stroke-width="0.9"/>
<line x1="184.60" y1="307.60" x2="184.60" y2="310.80" stroke="#555" stroke-width="0.9"/>
<line x1="148.60" y1="247.27" x2="148.60" y2="255.11" stroke="#444" stroke-width="0.9"/>
<line x1="145.60" y1="247.27" x2="151.60" y2="247.27" stroke="#444" stroke-width="0.9"/>
<rect x="142.70" y="255.11" width="11.80" height="52.49" fill="#fff" stroke="#555" stroke-width="0.9"/>
<line x1="166.60" y1="298.25" x2="166.60" y2="302.47" stroke="#444" stroke-width="0.9"/>
<line x1="163.60" y1="298.25" x2="169.60" y2="298.25" stroke="#444" stroke-width="0.9"/>
<rect x="160.70" y="302.47" width="11.80" height="5.13" fill="#000" stroke="#000" stroke-width="0.9"/>
<line x1="184.60" y1="303.38" x2="184.60" y2="304.28" stroke="#444" stroke-width="0.9"/>
<line x1="181.60" y1="303.38" x2="187.60" y2="303.38" stroke="#444" stroke-width="0.9"/>
<rect x="178.70" y="304.28" width="11.80" height="3.32" fill="#9e9e9e" stroke="#555" stroke-width="0.9"/>
<text x="167.00" y="293.90" text-anchor="middle" fill="#000" style="font-size:6.6px;letter-spacing:0.25px;" >**</text>
<text x="185.00" y="299.90" text-anchor="middle" fill="#000" style="font-size:6.6px;letter-spacing:0.25px;" >**</text>
<text x="134.30" y="210.80" text-anchor="start" fill="#222" style="font-size:6.3px;letter-spacing:1.25px;" >DN2</text>
<text transform="translate(116.50,287.30) rotate(-90)" style="font-size:6.2px;letter-spacing:0.42px" fill="#000">Cell count x10<tspan dx="0.9" dy="-4.6" style="font-size:4.0px">6</tspan></text>
<line x1="230.60" y1="217.10" x2="230.60" y2="307.60" stroke="#555" stroke-width="0.9"/>
<line x1="227.40" y1="307.60" x2="230.60" y2="307.60" stroke="#555" stroke-width="0.9"/>
<text x="226.40" y="309.55" text-anchor="end" fill="#222" style="font-size:5.2px;letter-spacing:0.65px;" >0.0</text>
<line x1="227.40" y1="284.98" x2="230.60" y2="284.98" stroke="#555" stroke-width="0.9"/>
<text x="226.40" y="286.93" text-anchor="end" fill="#222" style="font-size:5.2px;letter-spacing:0.65px;" >0.5</text>
<line x1="227.40" y1="262.35" x2="230.60" y2="262.35" stroke="#555" stroke-width="0.9"/>
<text x="226.40" y="264.30" text-anchor="end" fill="#222" style="font-size:5.2px;letter-spacing:0.65px;" >1.0</text>
<line x1="227.40" y1="239.72" x2="230.60" y2="239.72" stroke="#555" stroke-width="0.9"/>
<text x="226.40" y="241.67" text-anchor="end" fill="#222" style="font-size:5.2px;letter-spacing:0.65px;" >1.5</text>
<line x1="227.40" y1="217.10" x2="230.60" y2="217.10" stroke="#555" stroke-width="0.9"/>
<text x="226.40" y="219.05" text-anchor="end" fill="#222" style="font-size:5.2px;letter-spacing:0.65px;" >2.0</text>
<line x1="230.60" y1="307.60" x2="291.60" y2="307.60" stroke="#555" stroke-width="0.9"/>
<line x1="242.90" y1="307.60" x2="242.90" y2="310.80" stroke="#555" stroke-width="0.9"/>
<line x1="260.90" y1="307.60" x2="260.90" y2="310.80" stroke="#555" stroke-width="0.9"/>
<line x1="278.90" y1="307.60" x2="278.90" y2="310.80" stroke="#555" stroke-width="0.9"/>
<line x1="242.90" y1="240.18" x2="242.90" y2="247.42" stroke="#444" stroke-width="0.9"/>
<line x1="239.90" y1="240.18" x2="245.90" y2="240.18" stroke="#444" stroke-width="0.9"/>
<rect x="237.00" y="247.42" width="11.80" height="60.18" fill="#fff" stroke="#555" stroke-width="0.9"/>
<line x1="260.90" y1="300.36" x2="260.90" y2="303.71" stroke="#444" stroke-width="0.9"/>
<line x1="257.90" y1="300.36" x2="263.90" y2="300.36" stroke="#444" stroke-width="0.9"/>
<rect x="255.00" y="303.71" width="11.80" height="3.89" fill="#000" stroke="#000" stroke-width="0.9"/>
<line x1="278.90" y1="296.29" x2="278.90" y2="300.68" stroke="#444" stroke-width="0.9"/>
<line x1="275.90" y1="296.29" x2="281.90" y2="296.29" stroke="#444" stroke-width="0.9"/>
<rect x="273.00" y="300.68" width="11.80" height="6.92" fill="#9e9e9e" stroke="#555" stroke-width="0.9"/>
<text x="261.30" y="296.20" text-anchor="middle" fill="#000" style="font-size:6.6px;letter-spacing:0.25px;" >***</text>
<text x="279.30" y="291.30" text-anchor="middle" fill="#000" style="font-size:6.6px;letter-spacing:0.25px;" >***</text>
<text x="228.60" y="210.80" text-anchor="start" fill="#222" style="font-size:6.3px;letter-spacing:1.25px;" >DN3</text>
<text transform="translate(214.10,287.30) rotate(-90)" style="font-size:6.2px;letter-spacing:0.42px" fill="#000">Cell count x10<tspan dx="0.9" dy="-4.6" style="font-size:4.0px">6</tspan></text>
<line x1="324.70" y1="217.10" x2="324.70" y2="307.60" stroke="#555" stroke-width="0.9"/>
<line x1="321.50" y1="307.60" x2="324.70" y2="307.60" stroke="#555" stroke-width="0.9"/>
<text x="320.50" y="309.55" text-anchor="end" fill="#222" style="font-size:5.2px;letter-spacing:0.65px;" >0.0</text>
<line x1="321.50" y1="284.98" x2="324.70" y2="284.98" stroke="#555" stroke-width="0.9"/>
<text x="320.50" y="286.93" text-anchor="end" fill="#222" style="font-size:5.2px;letter-spacing:0.65px;" >0.5</text>
<line x1="321.50" y1="262.35" x2="324.70" y2="262.35" stroke="#555" stroke-width="0.9"/>
<text x="320.50" y="264.30" text-anchor="end" fill="#222" style="font-size:5.2px;letter-spacing:0.65px;" >1.0</text>
<line x1="321.50" y1="239.72" x2="324.70" y2="239.72" stroke="#555" stroke-width="0.9"/>
<text x="320.50" y="241.67" text-anchor="end" fill="#222" style="font-size:5.2px;letter-spacing:0.65px;" >1.5</text>
<line x1="321.50" y1="217.10" x2="324.70" y2="217.10" stroke="#555" stroke-width="0.9"/>
<text x="320.50" y="219.05" text-anchor="end" fill="#222" style="font-size:5.2px;letter-spacing:0.65px;" >2.0</text>
<line x1="324.70" y1="307.60" x2="385.70" y2="307.60" stroke="#555" stroke-width="0.9"/>
<line x1="337.00" y1="307.60" x2="337.00" y2="310.80" stroke="#555" stroke-width="0.9"/>
<line x1="355.00" y1="307.60" x2="355.00" y2="310.80" stroke="#555" stroke-width="0.9"/>
<line x1="373.00" y1="307.60" x2="373.00" y2="310.80" stroke="#555" stroke-width="0.9"/>
<line x1="337.00" y1="224.79" x2="337.00" y2="233.39" stroke="#444" stroke-width="0.9"/>
<line x1="334.00" y1="224.79" x2="340.00" y2="224.79" stroke="#444" stroke-width="0.9"/>
<rect x="331.10" y="233.39" width="11.80" height="74.21" fill="#fff" stroke="#555" stroke-width="0.9"/>
<line x1="355.00" y1="301.27" x2="355.00" y2="303.98" stroke="#444" stroke-width="0.9"/>
<line x1="352.00" y1="301.27" x2="358.00" y2="301.27" stroke="#444" stroke-width="0.9"/>
<rect x="349.10" y="303.98" width="11.80" height="3.62" fill="#000" stroke="#000" stroke-width="0.9"/>
<line x1="373.00" y1="299.91" x2="373.00" y2="302.17" stroke="#444" stroke-width="0.9"/>
<line x1="370.00" y1="299.91" x2="376.00" y2="299.91" stroke="#444" stroke-width="0.9"/>
<rect x="367.10" y="302.17" width="11.80" height="5.43" fill="#9e9e9e" stroke="#555" stroke-width="0.9"/>
<text x="355.40" y="298.80" text-anchor="middle" fill="#000" style="font-size:6.6px;letter-spacing:0.25px;" >***</text>
<text x="373.40" y="298.80" text-anchor="middle" fill="#000" style="font-size:6.6px;letter-spacing:0.25px;" >***</text>
<text x="322.70" y="210.80" text-anchor="start" fill="#222" style="font-size:6.3px;letter-spacing:1.25px;" >DN4</text>
<text transform="translate(307.90,287.30) rotate(-90)" style="font-size:6.2px;letter-spacing:0.42px" fill="#000">Cell count x10<tspan dx="0.9" dy="-4.6" style="font-size:4.0px">6</tspan></text>
<line x1="419.40" y1="217.10" x2="419.40" y2="307.60" stroke="#555" stroke-width="0.9"/>
<line x1="416.20" y1="307.60" x2="419.40" y2="307.60" stroke="#555" stroke-width="0.9"/>
<text x="415.20" y="309.55" text-anchor="end" fill="#222" style="font-size:5.2px;letter-spacing:0.65px;" >0</text>
<line x1="416.20" y1="289.50" x2="419.40" y2="289.50" stroke="#555" stroke-width="0.9"/>
<text x="415.20" y="291.45" text-anchor="end" fill="#222" style="font-size:5.2px;letter-spacing:0.65px;" >20</text>
<line x1="416.20" y1="271.40" x2="419.40" y2="271.40" stroke="#555" stroke-width="0.9"/>
<text x="415.20" y="273.35" text-anchor="end" fill="#222" style="font-size:5.2px;letter-spacing:0.65px;" >40</text>
<line x1="416.20" y1="253.30" x2="419.40" y2="253.30" stroke="#555" stroke-width="0.9"/>
<text x="415.20" y="255.25" text-anchor="end" fill="#222" style="font-size:5.2px;letter-spacing:0.65px;" >60</text>
<line x1="416.20" y1="235.20" x2="419.40" y2="235.20" stroke="#555" stroke-width="0.9"/>
<text x="415.20" y="237.15" text-anchor="end" fill="#222" style="font-size:5.2px;letter-spacing:0.65px;" >80</text>
<line x1="416.20" y1="217.10" x2="419.40" y2="217.10" stroke="#555" stroke-width="0.9"/>
<text x="415.20" y="219.05" text-anchor="end" fill="#222" style="font-size:5.2px;letter-spacing:0.65px;" >100</text>
<line x1="419.40" y1="307.60" x2="480.40" y2="307.60" stroke="#555" stroke-width="0.9"/>
<line x1="431.70" y1="307.60" x2="431.70" y2="310.80" stroke="#555" stroke-width="0.9"/>
<line x1="449.70" y1="307.60" x2="449.70" y2="310.80" stroke="#555" stroke-width="0.9"/>
<line x1="467.70" y1="307.60" x2="467.70" y2="310.80" stroke="#555" stroke-width="0.9"/>
<line x1="431.70" y1="226.15" x2="431.70" y2="235.20" stroke="#444" stroke-width="0.9"/>
<line x1="428.70" y1="226.15" x2="434.70" y2="226.15" stroke="#444" stroke-width="0.9"/>
<rect x="425.80" y="235.20" width="11.80" height="72.40" fill="#fff" stroke="#555" stroke-width="0.9"/>
<line x1="449.70" y1="302.44" x2="449.70" y2="305.07" stroke="#444" stroke-width="0.9"/>
<line x1="446.70" y1="302.44" x2="452.70" y2="302.44" stroke="#444" stroke-width="0.9"/>
<rect x="443.80" y="305.07" width="11.80" height="2.53" fill="#000" stroke="#000" stroke-width="0.9"/>
<line x1="467.70" y1="301.27" x2="467.70" y2="303.08" stroke="#444" stroke-width="0.9"/>
<line x1="464.70" y1="301.27" x2="470.70" y2="301.27" stroke="#444" stroke-width="0.9"/>
<rect x="461.80" y="303.08" width="11.80" height="4.52" fill="#9e9e9e" stroke="#555" stroke-width="0.9"/>
<text x="450.10" y="296.70" text-anchor="middle" fill="#000" style="font-size:6.6px;letter-spacing:0.25px;" >***</text>
<text x="468.10" y="296.70" text-anchor="middle" fill="#000" style="font-size:6.6px;letter-spacing:0.25px;" >***</text>
<text x="417.40" y="210.80" text-anchor="start" fill="#222" style="font-size:6.3px;letter-spacing:1.25px;" >DP</text>
<text transform="translate(402.30,287.30) rotate(-90)" style="font-size:6.2px;letter-spacing:0.42px" fill="#000">Cell count x10<tspan dx="0.9" dy="-4.6" style="font-size:4.0px">6</tspan></text>
<line x1="508.40" y1="217.10" x2="508.40" y2="307.60" stroke="#555" stroke-width="0.9"/>
<line x1="505.20" y1="307.60" x2="508.40" y2="307.60" stroke="#555" stroke-width="0.9"/>
<text x="504.20" y="309.55" text-anchor="end" fill="#222" style="font-size:5.2px;letter-spacing:0.65px;" >0</text>
<line x1="505.20" y1="284.98" x2="508.40" y2="284.98" stroke="#555" stroke-width="0.9"/>
<text x="504.20" y="286.93" text-anchor="end" fill="#222" style="font-size:5.2px;letter-spacing:0.65px;" >2</text>
<line x1="505.20" y1="262.35" x2="508.40" y2="262.35" stroke="#555" stroke-width="0.9"/>
<text x="504.20" y="264.30" text-anchor="end" fill="#222" style="font-size:5.2px;letter-spacing:0.65px;" >4</text>
<line x1="505.20" y1="239.72" x2="508.40" y2="239.72" stroke="#555" stroke-width="0.9"/>
<text x="504.20" y="241.67" text-anchor="end" fill="#222" style="font-size:5.2px;letter-spacing:0.65px;" >6</text>
<line x1="505.20" y1="217.10" x2="508.40" y2="217.10" stroke="#555" stroke-width="0.9"/>
<text x="504.20" y="219.05" text-anchor="end" fill="#222" style="font-size:5.2px;letter-spacing:0.65px;" >8</text>
<line x1="508.40" y1="307.60" x2="569.40" y2="307.60" stroke="#555" stroke-width="0.9"/>
<line x1="520.70" y1="307.60" x2="520.70" y2="310.80" stroke="#555" stroke-width="0.9"/>
<line x1="538.70" y1="307.60" x2="538.70" y2="310.80" stroke="#555" stroke-width="0.9"/>
<line x1="556.70" y1="307.60" x2="556.70" y2="310.80" stroke="#555" stroke-width="0.9"/>
<line x1="520.70" y1="238.25" x2="520.70" y2="250.25" stroke="#444" stroke-width="0.9"/>
<line x1="517.70" y1="238.25" x2="523.70" y2="238.25" stroke="#444" stroke-width="0.9"/>
<rect x="514.80" y="250.25" width="11.80" height="57.35" fill="#fff" stroke="#555" stroke-width="0.9"/>
<line x1="538.70" y1="299.12" x2="538.70" y2="302.40" stroke="#444" stroke-width="0.9"/>
<line x1="535.70" y1="299.12" x2="541.70" y2="299.12" stroke="#444" stroke-width="0.9"/>
<rect x="532.80" y="302.40" width="11.80" height="5.20" fill="#000" stroke="#000" stroke-width="0.9"/>
<line x1="556.70" y1="296.06" x2="556.70" y2="300.13" stroke="#444" stroke-width="0.9"/>
<line x1="553.70" y1="296.06" x2="559.70" y2="296.06" stroke="#444" stroke-width="0.9"/>
<rect x="550.80" y="300.13" width="11.80" height="7.47" fill="#9e9e9e" stroke="#555" stroke-width="0.9"/>
<text x="539.10" y="297.30" text-anchor="middle" fill="#000" style="font-size:6.6px;letter-spacing:0.25px;" >*</text>
<text x="557.10" y="296.60" text-anchor="middle" fill="#000" style="font-size:6.6px;letter-spacing:0.25px;" >*</text>
<text x="506.40" y="210.80" text-anchor="start" fill="#222" style="font-size:6.3px;letter-spacing:1.25px;" >CD4</text>
<text transform="translate(497.40,287.30) rotate(-90)" style="font-size:6.2px;letter-spacing:0.42px" fill="#000">Cell count x10<tspan dx="0.9" dy="-4.6" style="font-size:4.0px">6</tspan></text>
<line x1="601.90" y1="217.10" x2="601.90" y2="307.60" stroke="#555" stroke-width="0.9"/>
<line x1="598.70" y1="307.60" x2="601.90" y2="307.60" stroke="#555" stroke-width="0.9"/>
<text x="597.70" y="309.55" text-anchor="end" fill="#222" style="font-size:5.2px;letter-spacing:0.65px;" >0.0</text>
<line x1="598.70" y1="289.50" x2="601.90" y2="289.50" stroke="#555" stroke-width="0.9"/>
<text x="597.70" y="291.45" text-anchor="end" fill="#222" style="font-size:5.2px;letter-spacing:0.65px;" >0.5</text>
<line x1="598.70" y1="271.40" x2="601.90" y2="271.40" stroke="#555" stroke-width="0.9"/>
<text x="597.70" y="273.35" text-anchor="end" fill="#222" style="font-size:5.2px;letter-spacing:0.65px;" >1.0</text>
<line x1="598.70" y1="253.30" x2="601.90" y2="253.30" stroke="#555" stroke-width="0.9"/>
<text x="597.70" y="255.25" text-anchor="end" fill="#222" style="font-size:5.2px;letter-spacing:0.65px;" >1.5</text>
<line x1="598.70" y1="235.20" x2="601.90" y2="235.20" stroke="#555" stroke-width="0.9"/>
<text x="597.70" y="237.15" text-anchor="end" fill="#222" style="font-size:5.2px;letter-spacing:0.65px;" >2.0</text>
<line x1="598.70" y1="217.10" x2="601.90" y2="217.10" stroke="#555" stroke-width="0.9"/>
<text x="597.70" y="219.05" text-anchor="end" fill="#222" style="font-size:5.2px;letter-spacing:0.65px;" >2.5</text>
<line x1="601.90" y1="307.60" x2="662.90" y2="307.60" stroke="#555" stroke-width="0.9"/>
<line x1="614.20" y1="307.60" x2="614.20" y2="310.80" stroke="#555" stroke-width="0.9"/>
<line x1="632.20" y1="307.60" x2="632.20" y2="310.80" stroke="#555" stroke-width="0.9"/>
<line x1="650.20" y1="307.60" x2="650.20" y2="310.80" stroke="#555" stroke-width="0.9"/>
<line x1="614.20" y1="237.73" x2="614.20" y2="249.32" stroke="#444" stroke-width="0.9"/>
<line x1="611.20" y1="237.73" x2="617.20" y2="237.73" stroke="#444" stroke-width="0.9"/>
<rect x="608.30" y="249.32" width="11.80" height="58.28" fill="#fff" stroke="#555" stroke-width="0.9"/>
<line x1="632.20" y1="280.45" x2="632.20" y2="287.87" stroke="#444" stroke-width="0.9"/>
<line x1="629.20" y1="280.45" x2="635.20" y2="280.45" stroke="#444" stroke-width="0.9"/>
<rect x="626.30" y="287.87" width="11.80" height="19.73" fill="#000" stroke="#000" stroke-width="0.9"/>
<line x1="650.20" y1="295.29" x2="650.20" y2="297.28" stroke="#444" stroke-width="0.9"/>
<line x1="647.20" y1="295.29" x2="653.20" y2="295.29" stroke="#444" stroke-width="0.9"/>
<rect x="644.30" y="297.28" width="11.80" height="10.32" fill="#9e9e9e" stroke="#555" stroke-width="0.9"/>
<text x="632.70" y="277.00" text-anchor="middle" fill="#333" style="font-size:5.2px;letter-spacing:0.5px;font-style:italic;" >p=0.08</text>
<text x="650.60" y="293.70" text-anchor="middle" fill="#000" style="font-size:6.6px;letter-spacing:0.25px;" >*</text>
<text x="599.90" y="210.80" text-anchor="start" fill="#222" style="font-size:6.3px;letter-spacing:1.25px;" >CD8</text>
<text transform="translate(585.50,287.30) rotate(-90)" style="font-size:6.2px;letter-spacing:0.42px" fill="#000">Cell count x10<tspan dx="0.9" dy="-4.6" style="font-size:4.0px">6</tspan></text>
<text x="48.60" y="151.40" text-anchor="middle" fill="#111" style="font-size:5.0px;letter-spacing:0.6px;" >+/+</text>
<text x="66.60" y="151.40" text-anchor="middle" fill="#111" style="font-size:5.0px;letter-spacing:0.6px;" >-/-</text>
<text x="86.00" y="151.40" text-anchor="middle" fill="#111" style="font-size:5.0px;letter-spacing:0.62px;" >DN/DN</text>
<text x="138.70" y="151.40" text-anchor="middle" fill="#111" style="font-size:5.0px;letter-spacing:0.6px;" >+/+</text>
<text x="156.70" y="151.40" text-anchor="middle" fill="#111" style="font-size:5.0px;letter-spacing:0.6px;" >-/-</text>
<text x="176.10" y="151.40" text-anchor="middle" fill="#111" style="font-size:5.0px;letter-spacing:0.62px;" >DN/DN</text>
<text x="237.80" y="151.40" text-anchor="middle" fill="#111" style="font-size:5.0px;letter-spacing:0.6px;" >+/+</text>
<text x="255.80" y="151.40" text-anchor="middle" fill="#111" style="font-size:5.0px;letter-spacing:0.6px;" >-/-</text>
<text x="275.20" y="151.40" text-anchor="middle" fill="#111" style="font-size:5.0px;letter-spacing:0.62px;" >DN/DN</text>
<text x="332.80" y="151.40" text-anchor="middle" fill="#111" style="font-size:5.0px;letter-spacing:0.6px;" >+/+</text>
<text x="350.80" y="151.40" text-anchor="middle" fill="#111" style="font-size:5.0px;letter-spacing:0.6px;" >-/-</text>
<text x="370.20" y="151.40" text-anchor="middle" fill="#111" style="font-size:5.0px;letter-spacing:0.62px;" >DN/DN</text>
<text x="427.80" y="151.40" text-anchor="middle" fill="#111" style="font-size:5.0px;letter-spacing:0.6px;" >+/+</text>
<text x="445.80" y="151.40" text-anchor="middle" fill="#111" style="font-size:5.0px;letter-spacing:0.6px;" >-/-</text>
<text x="465.20" y="151.40" text-anchor="middle" fill="#111" style="font-size:5.0px;letter-spacing:0.62px;" >DN/DN</text>
<text x="522.80" y="151.40" text-anchor="middle" fill="#111" style="font-size:5.0px;letter-spacing:0.6px;" >+/+</text>
<text x="540.80" y="151.40" text-anchor="middle" fill="#111" style="font-size:5.0px;letter-spacing:0.6px;" >-/-</text>
<text x="560.20" y="151.40" text-anchor="middle" fill="#111" style="font-size:5.0px;letter-spacing:0.62px;" >DN/DN</text>
<text x="611.50" y="151.40" text-anchor="middle" fill="#111" style="font-size:5.0px;letter-spacing:0.6px;" >+/+</text>
<text x="629.50" y="151.40" text-anchor="middle" fill="#111" style="font-size:5.0px;letter-spacing:0.6px;" >-/-</text>
<text x="648.90" y="151.40" text-anchor="middle" fill="#111" style="font-size:5.0px;letter-spacing:0.62px;" >DN/DN</text>
<text x="52.50" y="321.50" text-anchor="middle" fill="#111" style="font-size:5.0px;letter-spacing:0.6px;" >+/+</text>
<text x="70.50" y="321.50" text-anchor="middle" fill="#111" style="font-size:5.0px;letter-spacing:0.6px;" >-/-</text>
<text x="89.90" y="321.50" text-anchor="middle" fill="#111" style="font-size:5.0px;letter-spacing:0.62px;" >DN/DN</text>
<text x="149.40" y="321.50" text-anchor="middle" fill="#111" style="font-size:5.0px;letter-spacing:0.6px;" >+/+</text>
<text x="167.40" y="321.50" text-anchor="middle" fill="#111" style="font-size:5.0px;letter-spacing:0.6px;" >-/-</text>
<text x="186.80" y="321.50" text-anchor="middle" fill="#111" style="font-size:5.0px;letter-spacing:0.62px;" >DN/DN</text>
<text x="243.70" y="321.50" text-anchor="middle" fill="#111" style="font-size:5.0px;letter-spacing:0.6px;" >+/+</text>
<text x="261.70" y="321.50" text-anchor="middle" fill="#111" style="font-size:5.0px;letter-spacing:0.6px;" >-/-</text>
<text x="281.10" y="321.50" text-anchor="middle" fill="#111" style="font-size:5.0px;letter-spacing:0.62px;" >DN/DN</text>
<text x="337.80" y="321.50" text-anchor="middle" fill="#111" style="font-size:5.0px;letter-spacing:0.6px;" >+/+</text>
<text x="355.80" y="321.50" text-anchor="middle" fill="#111" style="font-size:5.0px;letter-spacing:0.6px;" >-/-</text>
<text x="375.20" y="321.50" text-anchor="middle" fill="#111" style="font-size:5.0px;letter-spacing:0.62px;" >DN/DN</text>
<text x="432.50" y="321.50" text-anchor="middle" fill="#111" style="font-size:5.0px;letter-spacing:0.6px;" >+/+</text>
<text x="450.50" y="321.50" text-anchor="middle" fill="#111" style="font-size:5.0px;letter-spacing:0.6px;" >-/-</text>
<text x="469.90" y="321.50" text-anchor="middle" fill="#111" style="font-size:5.0px;letter-spacing:0.62px;" >DN/DN</text>
<text x="521.50" y="321.50" text-anchor="middle" fill="#111" style="font-size:5.0px;letter-spacing:0.6px;" >+/+</text>
<text x="539.50" y="321.50" text-anchor="middle" fill="#111" style="font-size:5.0px;letter-spacing:0.6px;" >-/-</text>
<text x="558.90" y="321.50" text-anchor="middle" fill="#111" style="font-size:5.0px;letter-spacing:0.62px;" >DN/DN</text>
<text x="615.00" y="321.50" text-anchor="middle" fill="#111" style="font-size:5.0px;letter-spacing:0.6px;" >+/+</text>
<text x="633.00" y="321.50" text-anchor="middle" fill="#111" style="font-size:5.0px;letter-spacing:0.6px;" >-/-</text>
<text x="652.40" y="321.50" text-anchor="middle" fill="#111" style="font-size:5.0px;letter-spacing:0.62px;" >DN/DN</text>
<text x="12.30" y="151.20" text-anchor="start" fill="#000" style="font-size:5.8px;letter-spacing:1.35px;font-style:italic;" >Mysm1:</text>
<text x="15.70" y="321.10" text-anchor="start" fill="#000" style="font-size:5.8px;letter-spacing:1.35px;font-style:italic;" >Mysm1:</text>
<path d="M42.60,449.60 C41.88,447.70 42.70,446.47 43.20,444.80 C43.70,443.13 44.22,441.43 45.60,439.60 C46.98,437.77 49.18,435.37 51.50,433.80 C53.82,432.23 57.25,431.33 59.50,430.20 C61.75,429.07 63.50,428.12 65.00,427.00 C66.50,425.88 67.50,424.83 68.50,423.50 C69.50,422.17 70.28,420.50 71.00,419.00 C71.72,417.50 72.25,415.83 72.80,414.50 C73.35,413.17 73.73,412.03 74.30,411.00 C74.87,409.97 75.42,409.13 76.20,408.30 C76.98,407.47 77.87,406.63 79.00,406.00 C80.13,405.37 81.58,404.92 83.00,404.50 C84.42,404.08 85.83,404.00 87.50,403.50 C89.17,403.00 91.08,402.25 93.00,401.50 C94.92,400.75 96.83,400.08 99.00,399.00 C101.17,397.92 104.08,396.13 106.00,395.00 C107.92,393.87 109.50,392.53 110.50,392.20 C111.50,391.87 112.33,391.87 112.00,393.00 C111.67,394.13 109.75,397.08 108.50,399.00 C107.25,400.92 105.75,402.67 104.50,404.50 C103.25,406.33 102.25,408.17 101.00,410.00 C99.75,411.83 98.33,413.83 97.00,415.50 C95.67,417.17 94.17,418.58 93.00,420.00 C91.83,421.42 90.95,422.67 90.00,424.00 C89.05,425.33 88.05,426.67 87.30,428.00 C86.55,429.33 86.38,430.83 85.50,432.00 C84.62,433.17 83.42,434.17 82.00,435.00 C80.58,435.83 78.25,436.25 77.00,437.00 C75.75,437.75 74.75,438.62 74.50,439.50 C74.25,440.38 74.58,441.68 75.50,442.30 C76.42,442.92 78.25,443.02 80.00,443.20 C81.75,443.38 84.25,443.17 86.00,443.40 C87.75,443.63 89.37,443.90 90.50,444.60 C91.63,445.30 92.52,446.50 92.80,447.60 C93.08,448.70 92.83,450.20 92.20,451.20 C91.57,452.20 90.53,453.08 89.00,453.60 C87.47,454.12 85.50,454.30 83.00,454.30 C80.50,454.30 76.83,453.48 74.00,453.60 C71.17,453.72 68.63,454.43 66.00,455.00 C63.37,455.57 61.28,456.80 58.20,457.00 C55.12,457.20 50.10,457.43 47.50,456.20 C44.90,454.97 43.32,451.50 42.60,449.60Z" fill="#0010ff" stroke="#0000d8" stroke-width="0.6"/>
<g clip-path="url(#cb1)">
<ellipse cx="0" cy="0" rx="14" ry="8" fill="url(#lblue)" transform="translate(60,440) rotate(-30)"/>
<ellipse cx="0" cy="0" rx="16" ry="8" fill="url(#lblue)" transform="translate(72,440) rotate(-20)"/>
<ellipse cx="0" cy="0" rx="24" ry="8" fill="url(#lblue)" transform="translate(90,412) rotate(-42)"/>
<ellipse cx="0" cy="0" rx="18" ry="5.5" fill="url(#lb2)" transform="translate(88,414) rotate(-42)"/>
<ellipse cx="0" cy="0" rx="9" ry="3" fill="url(#lb2)" transform="translate(100,403) rotate(-35)"/>
<ellipse cx="0" cy="0" rx="7" ry="5" fill="url(#cyan)" transform="translate(82,417) rotate(-40)"/>
<ellipse cx="0" cy="0" rx="4.5" ry="3" fill="url(#green)" transform="translate(96,408) rotate(-35)"/>
<ellipse cx="0" cy="0" rx="4" ry="2.2" fill="url(#cyan)" transform="translate(103.5,401) rotate(-35)"/>
<ellipse cx="0" cy="0" rx="9" ry="3.5" fill="url(#lblue)" transform="translate(84,448) rotate(0)"/>
<ellipse cx="0" cy="0" rx="14" ry="10.2" fill="url(#heat)" transform="translate(53.4,449.3) rotate(0)"/>
</g>
<path d="M135.70,450.40 C135.85,448.37 136.60,444.88 138.10,441.90 C139.60,438.92 142.67,434.85 144.70,432.50 C146.73,430.15 148.27,428.80 150.30,427.80 C152.33,426.80 155.02,426.97 156.90,426.50 C158.78,426.03 159.72,425.72 161.60,425.00 C163.48,424.28 166.48,422.52 168.20,422.20 C169.92,421.88 171.18,422.00 171.90,423.10 C172.62,424.20 172.80,426.28 172.50,428.80 C172.20,431.32 170.73,435.38 170.10,438.20 C169.47,441.02 169.80,443.83 168.70,445.70 C167.60,447.57 165.15,447.83 163.50,449.40 C161.85,450.97 161.00,453.68 158.80,455.10 C156.60,456.52 153.12,457.58 150.30,457.90 C147.48,458.22 144.08,457.63 141.90,457.00 C139.72,456.37 138.23,455.20 137.20,454.10 C136.17,453.00 135.55,452.43 135.70,450.40Z" fill="#0010ff" stroke="#0000d8" stroke-width="0.6"/>
<g clip-path="url(#cb2)">
<ellipse cx="0" cy="0" rx="12" ry="7" fill="url(#lblue)" transform="translate(155,440) rotate(-35)"/>
<ellipse cx="0" cy="0" rx="10.8" ry="8.1" fill="url(#heat)" transform="translate(147.1,449.8) rotate(0)"/>
</g>
<ellipse cx="0" cy="0" rx="0.9" ry="1.7" fill="#0010ff" transform="translate(190.7,408.1) rotate(35)"/>
<ellipse cx="182.3" cy="449.8" rx="1.3" ry="0.8" fill="#0010ff"/>
<path d="M230.80,450.40 C230.48,448.30 231.68,445.57 233.00,442.90 C234.32,440.23 237.13,436.60 238.70,434.40 C240.27,432.20 240.83,430.70 242.40,429.70 C243.97,428.70 246.53,428.55 248.10,428.40 C249.67,428.25 250.55,429.12 251.80,428.80 C253.05,428.48 254.03,427.28 255.60,426.50 C257.17,425.72 259.70,424.35 261.20,424.10 C262.70,423.85 263.97,424.07 264.60,425.00 C265.23,425.93 265.25,427.82 265.00,429.70 C264.75,431.58 264.03,434.10 263.10,436.30 C262.17,438.50 260.80,440.87 259.40,442.90 C258.00,444.93 256.27,446.63 254.70,448.50 C253.13,450.37 252.05,452.68 250.00,454.10 C247.95,455.52 244.92,456.77 242.40,457.00 C239.88,457.23 236.83,456.60 234.90,455.50 C232.97,454.40 231.12,452.50 230.80,450.40Z" fill="#0010ff" stroke="#0000d8" stroke-width="0.6"/>
<g clip-path="url(#cb3)">
<ellipse cx="0" cy="0" rx="12" ry="7" fill="url(#lblue)" transform="translate(250,440) rotate(-35)"/>
<ellipse cx="0" cy="0" rx="10.8" ry="7.9" fill="url(#heat)" transform="translate(241.1,449.8) rotate(0)"/>
</g>
<line x1="29.80" y1="377.70" x2="311.00" y2="377.70" stroke="#c8c8c8" stroke-width="1.3"/>
<line x1="29.80" y1="377.70" x2="29.80" y2="472.20" stroke="#555" stroke-width="0.9"/>
<line x1="29.80" y1="472.20" x2="311.00" y2="472.20" stroke="#444" stroke-width="0.9"/>
<line x1="123.50" y1="377.70" x2="123.50" y2="472.20" stroke="#888" stroke-width="0.9"/>
<line x1="217.50" y1="377.70" x2="217.50" y2="472.20" stroke="#888" stroke-width="0.9"/>
<rect x="66.40" y="381.3" width="54.1" height="87.0" fill="none" stroke="#8a8a8a" stroke-width="0.9"/>
<rect x="160.40" y="381.3" width="54.1" height="87.0" fill="none" stroke="#8a8a8a" stroke-width="0.9"/>
<rect x="254.40" y="381.3" width="54.1" height="87.0" fill="none" stroke="#8a8a8a" stroke-width="0.9"/>
<text x="87.60" y="465.00" text-anchor="start" fill="#222" style="font-size:8.6px;" >29±7%</text>
<text x="184.70" y="465.00" text-anchor="start" fill="#222" style="font-size:8.6px;" >5±2%</text>
<text x="277.80" y="465.00" text-anchor="start" fill="#222" style="font-size:8.6px;" >6±3%</text>
<path d="M386.60,408.60 C386.77,407.48 387.87,405.65 390.80,404.80 C393.73,403.95 399.40,404.13 404.20,403.50 C409.00,402.87 414.13,402.22 419.60,401.00 C425.07,399.78 433.83,396.67 437.00,396.20 C440.17,395.73 438.78,396.65 438.60,398.20 C438.42,399.75 436.90,403.10 435.90,405.50 C434.90,407.90 433.42,410.50 432.60,412.60 C431.78,414.70 431.18,416.27 431.00,418.10 C430.82,419.93 431.33,421.40 431.50,423.60 C431.67,425.80 431.92,428.73 432.00,431.30 C432.08,433.87 432.08,436.80 432.00,439.00 C431.92,441.20 431.68,442.83 431.50,444.50 C431.32,446.17 431.12,447.50 430.90,449.00 C430.68,450.50 430.65,452.23 430.20,453.50 C429.75,454.77 429.33,456.13 428.20,456.60 C427.07,457.07 424.83,457.10 423.40,456.30 C421.97,455.50 420.55,453.67 419.60,451.80 C418.65,449.93 418.67,446.70 417.70,445.10 C416.73,443.50 415.57,442.52 413.80,442.20 C412.03,441.88 409.07,442.48 407.10,443.20 C405.13,443.92 403.63,445.17 402.00,446.50 C400.37,447.83 399.22,449.60 397.30,451.20 C395.38,452.80 392.60,455.08 390.50,456.10 C388.40,457.12 386.32,457.57 384.70,457.30 C383.08,457.03 381.53,455.80 380.80,454.50 C380.07,453.20 380.10,451.33 380.30,449.50 C380.50,447.67 381.13,445.48 382.00,443.50 C382.87,441.52 384.00,439.68 385.50,437.60 C387.00,435.52 389.42,433.10 391.00,431.00 C392.58,428.90 394.07,426.83 395.00,425.00 C395.93,423.17 396.50,421.60 396.60,420.00 C396.70,418.40 396.73,416.82 395.60,415.40 C394.47,413.98 391.30,412.63 389.80,411.50 C388.30,410.37 386.43,409.72 386.60,408.60Z" fill="#0010ff" stroke="#0000d8" stroke-width="0.6"/>
<g clip-path="url(#db1)">
<ellipse cx="0" cy="0" rx="16" ry="5" fill="url(#lblue)" transform="translate(408,409) rotate(-8)"/>
<ellipse cx="0" cy="0" rx="5" ry="10" fill="url(#lblue)" transform="translate(424,446) rotate(0)"/>
<ellipse cx="0" cy="0" rx="8" ry="11" fill="url(#lblue)" transform="translate(390,445) rotate(35)"/>
<ellipse cx="0" cy="0" rx="13.5" ry="20.5" fill="url(#cyanb)" transform="translate(421.5,416.5) rotate(33)"/>
<ellipse cx="0" cy="0" rx="8" ry="13.5" fill="url(#greenb)" transform="translate(422,415) rotate(28)"/>
<ellipse cx="0" cy="0" rx="6.0" ry="10.8" fill="url(#core2)" transform="translate(423,413.2) rotate(20)"/>
</g>
<path d="M474.90,411.50 C474.98,409.58 474.85,407.98 476.20,406.70 C477.55,405.42 478.67,404.60 483.00,403.80 C487.33,403.00 496.13,402.70 502.20,401.90 C508.27,401.10 514.53,399.82 519.40,399.00 C524.27,398.18 529.08,396.70 531.40,397.00 C533.72,397.30 533.42,398.75 533.30,400.80 C533.18,402.85 531.57,406.58 530.70,409.30 C529.83,412.02 528.78,414.72 528.10,417.10 C527.42,419.48 526.68,421.45 526.60,423.60 C526.52,425.75 527.33,427.60 527.60,430.00 C527.87,432.40 528.12,434.75 528.20,438.00 C528.28,441.25 528.43,446.58 528.10,449.50 C527.77,452.42 527.00,454.22 526.20,455.50 C525.40,456.78 524.43,457.17 523.30,457.20 C522.17,457.23 520.68,456.43 519.40,455.70 C518.12,454.97 516.87,454.08 515.60,452.80 C514.33,451.52 513.08,449.60 511.80,448.00 C510.52,446.40 509.50,444.17 507.90,443.20 C506.30,442.23 504.12,441.88 502.20,442.20 C500.28,442.52 498.65,443.65 496.40,445.10 C494.15,446.55 491.10,449.45 488.70,450.90 C486.30,452.35 483.43,453.80 482.00,453.80 C480.57,453.80 480.10,452.83 480.10,450.90 C480.10,448.97 481.85,445.08 482.00,442.20 C482.15,439.32 481.80,436.32 481.00,433.60 C480.20,430.88 478.08,428.47 477.20,425.90 C476.32,423.33 476.08,420.60 475.70,418.20 C475.32,415.80 474.82,413.42 474.90,411.50Z" fill="#0010ff" stroke="#0000d8" stroke-width="0.6"/>
<g clip-path="url(#db2)">
<ellipse cx="0" cy="0" rx="16" ry="9" fill="url(#lblue)" transform="translate(490,412) rotate(-5)"/>
<ellipse cx="0" cy="0" rx="14" ry="5.5" fill="url(#lb2)" transform="translate(490,410) rotate(-5)"/>
<ellipse cx="0" cy="0" rx="8" ry="13" fill="url(#lblue)" transform="translate(490,437) rotate(20)"/>
<ellipse cx="0" cy="0" rx="5.5" ry="12" fill="url(#cyanb)" transform="translate(521.5,445) rotate(0)"/>
<ellipse cx="0" cy="0" rx="3" ry="8" fill="url(#greenb)" transform="translate(521.8,445) rotate(0)"/>
<ellipse cx="0" cy="0" rx="9" ry="6" fill="url(#lb2)" transform="translate(511,433) rotate(0)"/>
<ellipse cx="0" cy="0" rx="17.7" ry="22" fill="url(#cyanb)" transform="translate(516,416) rotate(30)"/>
<ellipse cx="0" cy="0" rx="11.5" ry="17" fill="url(#greenb)" transform="translate(517,415.5) rotate(25)"/>
<ellipse cx="0" cy="0" rx="7.2" ry="12.5" fill="url(#core2)" transform="translate(519.2,412.2) rotate(18)"/>
</g>
<path d="M570.40,409.40 C570.70,407.00 571.10,405.90 572.20,404.60 C573.30,403.30 573.70,402.27 577.00,401.60 C580.30,400.93 586.33,400.98 592.00,400.60 C597.67,400.22 605.50,399.63 611.00,399.30 C616.50,398.97 622.27,398.42 625.00,398.60 C627.73,398.78 627.60,398.80 627.40,400.40 C627.20,402.00 625.00,404.90 623.80,408.20 C622.60,411.50 620.20,417.40 620.20,420.20 C620.20,423.00 623.00,422.80 623.80,425.00 C624.60,427.20 625.00,430.40 625.00,433.40 C625.00,436.40 624.80,440.60 623.80,443.00 C622.80,445.40 621.20,446.90 619.00,447.80 C616.80,448.70 612.80,448.50 610.60,448.40 C608.40,448.30 607.40,448.20 605.80,447.20 C604.20,446.20 602.50,443.40 601.00,442.40 C599.50,441.40 598.20,441.10 596.80,441.20 C595.40,441.30 594.30,441.70 592.60,443.00 C590.90,444.30 588.80,447.40 586.60,449.00 C584.40,450.60 581.50,452.20 579.40,452.60 C577.30,453.00 575.20,452.60 574.00,451.40 C572.80,450.20 572.60,447.80 572.20,445.40 C571.80,443.00 571.80,440.00 571.60,437.00 C571.40,434.00 571.20,430.40 571.00,427.40 C570.80,424.40 570.50,422.00 570.40,419.00 C570.30,416.00 570.10,411.80 570.40,409.40Z" fill="#0010ff" stroke="#0000d8" stroke-width="0.6"/>
<g clip-path="url(#db3)">
<ellipse cx="0" cy="0" rx="15" ry="17" fill="url(#lb2)" transform="translate(585,437) rotate(0)"/>
<ellipse cx="0" cy="0" rx="7" ry="9" fill="url(#lb2)" transform="translate(579,441) rotate(0)"/>
<ellipse cx="0" cy="0" rx="11" ry="7" fill="url(#lb2)" transform="translate(609,426) rotate(0)"/>
<ellipse cx="0" cy="0" rx="36" ry="13" fill="url(#cyanb)" transform="translate(598.6,412.6) rotate(-3)"/>
<ellipse cx="0" cy="0" rx="30" ry="8.2" fill="url(#greenb)" transform="translate(599.8,412.2) rotate(-3)"/>
<ellipse cx="0" cy="0" rx="13" ry="6.8" fill="url(#core2)" transform="translate(613.6,410.6) rotate(-17)"/>
</g>
<line x1="361.60" y1="376.40" x2="649.40" y2="376.40" stroke="#c8c8c8" stroke-width="1.3"/>
<line x1="361.60" y1="376.40" x2="361.60" y2="471.70" stroke="#666" stroke-width="0.9"/>
<line x1="361.60" y1="471.70" x2="649.40" y2="471.70" stroke="#444" stroke-width="0.9"/>
<line x1="457.70" y1="376.40" x2="457.70" y2="471.70" stroke="#777" stroke-width="0.9"/>
<line x1="553.60" y1="376.40" x2="553.60" y2="471.70" stroke="#777" stroke-width="0.9"/>
<polyline points="405.80,378.60 368.50,378.60 368.50,469.00 405.80,469.00" fill="none" stroke="#888" stroke-width="0.9"/>
<line x1="368.50" y1="419.4" x2="405.80" y2="419.4" stroke="#333" stroke-width="0.9"/>
<polygon points="405.80,378.60 440.60,378.60 440.60,402.20 417.70,438.50 405.80,436.30" fill="none" stroke="#888" stroke-width="0.9"/>
<line x1="405.80" y1="436.3" x2="417.70" y2="438.5" stroke="#333" stroke-width="0.9"/>
<line x1="405.80" y1="378.6" x2="405.80" y2="469.0" stroke="#333" stroke-width="0.9"/>
<polyline points="440.60,402.40 441.50,403.30 449.10,403.30 449.10,469.00 412.80,469.00 412.80,447.00 417.70,438.50" fill="none" stroke="#888" stroke-width="0.9"/>
<line x1="440.60" y1="402.2" x2="417.70" y2="438.5" stroke="#555" stroke-width="1.3" stroke-dasharray="0.9 0.6"/>
<polyline points="501.40,378.60 464.10,378.60 464.10,469.00 501.40,469.00" fill="none" stroke="#888" stroke-width="0.9"/>
<line x1="464.10" y1="419.4" x2="501.40" y2="419.4" stroke="#333" stroke-width="0.9"/>
<polygon points="501.40,378.60 536.20,378.60 536.20,402.20 513.30,438.50 501.40,436.30" fill="none" stroke="#888" stroke-width="0.9"/>
<line x1="501.40" y1="436.3" x2="513.30" y2="438.5" stroke="#333" stroke-width="0.9"/>
<line x1="501.40" y1="378.6" x2="501.40" y2="469.0" stroke="#333" stroke-width="0.9"/>
<polyline points="536.20,402.40 537.10,403.30 544.70,403.30 544.70,469.00 508.40,469.00 508.40,447.00 513.30,438.50" fill="none" stroke="#888" stroke-width="0.9"/>
<line x1="536.20" y1="402.2" x2="513.30" y2="438.5" stroke="#555" stroke-width="1.3" stroke-dasharray="0.9 0.6"/>
<polyline points="597.00,378.60 559.70,378.60 559.70,469.00 597.00,469.00" fill="none" stroke="#888" stroke-width="0.9"/>
<line x1="559.70" y1="419.4" x2="597.00" y2="419.4" stroke="#333" stroke-width="0.9"/>
<polygon points="597.00,378.60 631.80,378.60 631.80,402.20 608.90,438.50 597.00,436.30" fill="none" stroke="#888" stroke-width="0.9"/>
<line x1="597.00" y1="436.3" x2="608.90" y2="438.5" stroke="#333" stroke-width="0.9"/>
<line x1="597.00" y1="378.6" x2="597.00" y2="469.0" stroke="#333" stroke-width="0.9"/>
<polyline points="631.80,402.40 632.70,403.30 640.30,403.30 640.30,469.00 604.00,469.00 604.00,447.00 608.90,438.50" fill="none" stroke="#888" stroke-width="0.9"/>
<line x1="631.80" y1="402.2" x2="608.90" y2="438.5" stroke="#555" stroke-width="1.3" stroke-dasharray="0.9 0.6"/>
<text x="370.20" y="388.60" text-anchor="start" fill="#222" style="font-size:8.6px;" >2±1%</text>
<text x="412.60" y="388.60" text-anchor="start" fill="#222" style="font-size:8.6px;" >89±1%</text>
<text x="369.30" y="468.20" text-anchor="start" fill="#222" style="font-size:8.6px;" >4±1%</text>
<text x="425.00" y="468.20" text-anchor="start" fill="#222" style="font-size:8.6px;" >5±1%</text>
<text x="465.20" y="388.60" text-anchor="start" fill="#222" style="font-size:8.6px;" >26±20%</text>
<text x="503.60" y="388.60" text-anchor="start" fill="#222" style="font-size:8.6px;" >49±18%</text>
<text x="464.50" y="468.20" text-anchor="start" fill="#222" style="font-size:8.6px;" >8±3%</text>
<text x="512.50" y="468.20" text-anchor="start" fill="#222" style="font-size:8.6px;" >14±10%</text>
<text x="559.50" y="388.60" text-anchor="start" fill="#222" style="font-size:8.6px;" >13±9%</text>
<text x="604.20" y="388.60" text-anchor="start" fill="#222" style="font-size:8.6px;" >69±8%</text>
<text x="560.20" y="468.20" text-anchor="start" fill="#222" style="font-size:8.6px;" >10±3%</text>
<text x="615.40" y="468.20" text-anchor="start" fill="#222" style="font-size:8.6px;" >6±4%</text>
<line x1="35.50" y1="472.20" x2="35.50" y2="474.80" stroke="#444" stroke-width="0.8"/>
<line x1="66.60" y1="472.20" x2="66.60" y2="474.80" stroke="#444" stroke-width="0.8"/>
<line x1="92.60" y1="472.20" x2="92.60" y2="474.80" stroke="#444" stroke-width="0.8"/>
<line x1="115.00" y1="472.20" x2="115.00" y2="474.80" stroke="#444" stroke-width="0.8"/>
<line x1="38.60" y1="472.20" x2="38.60" y2="473.70" stroke="#444" stroke-width="0.6"/>
<line x1="41.70" y1="472.20" x2="41.70" y2="473.70" stroke="#444" stroke-width="0.6"/>
<line x1="44.80" y1="472.20" x2="44.80" y2="473.70" stroke="#444" stroke-width="0.6"/>
<line x1="47.90" y1="472.20" x2="47.90" y2="473.70" stroke="#444" stroke-width="0.6"/>
<line x1="54.12" y1="472.20" x2="54.12" y2="473.70" stroke="#444" stroke-width="0.6"/>
<line x1="57.24" y1="472.20" x2="57.24" y2="473.70" stroke="#444" stroke-width="0.6"/>
<line x1="60.36" y1="472.20" x2="60.36" y2="473.70" stroke="#444" stroke-width="0.6"/>
<line x1="63.48" y1="472.20" x2="63.48" y2="473.70" stroke="#444" stroke-width="0.6"/>
<line x1="74.43" y1="472.20" x2="74.43" y2="473.70" stroke="#444" stroke-width="0.6"/>
<line x1="79.01" y1="472.20" x2="79.01" y2="473.70" stroke="#444" stroke-width="0.6"/>
<line x1="82.25" y1="472.20" x2="82.25" y2="473.70" stroke="#444" stroke-width="0.6"/>
<line x1="84.77" y1="472.20" x2="84.77" y2="473.70" stroke="#444" stroke-width="0.6"/>
<line x1="86.83" y1="472.20" x2="86.83" y2="473.70" stroke="#444" stroke-width="0.6"/>
<line x1="88.57" y1="472.20" x2="88.57" y2="473.70" stroke="#444" stroke-width="0.6"/>
<line x1="90.08" y1="472.20" x2="90.08" y2="473.70" stroke="#444" stroke-width="0.6"/>
<line x1="91.41" y1="472.20" x2="91.41" y2="473.70" stroke="#444" stroke-width="0.6"/>
<line x1="99.34" y1="472.20" x2="99.34" y2="473.70" stroke="#444" stroke-width="0.6"/>
<line x1="103.29" y1="472.20" x2="103.29" y2="473.70" stroke="#444" stroke-width="0.6"/>
<line x1="106.09" y1="472.20" x2="106.09" y2="473.70" stroke="#444" stroke-width="0.6"/>
<line x1="108.26" y1="472.20" x2="108.26" y2="473.70" stroke="#444" stroke-width="0.6"/>
<line x1="110.03" y1="472.20" x2="110.03" y2="473.70" stroke="#444" stroke-width="0.6"/>
<line x1="111.53" y1="472.20" x2="111.53" y2="473.70" stroke="#444" stroke-width="0.6"/>
<line x1="112.83" y1="472.20" x2="112.83" y2="473.70" stroke="#444" stroke-width="0.6"/>
<line x1="113.98" y1="472.20" x2="113.98" y2="473.70" stroke="#444" stroke-width="0.6"/>
<line x1="121.74" y1="472.20" x2="121.74" y2="473.70" stroke="#444" stroke-width="0.6"/>
<rect x="48.80" y="472.20" width="3.6" height="2.2" fill="#111"/>
<text x="34.50" y="480.00" text-anchor="start" fill="#666" style="font-size:4.0px">-10<tspan dy="-1.5" style="font-size:3.0px">3</tspan></text>
<text x="51.30" y="480.00" text-anchor="middle" fill="#666" style="font-size:4.0px">0</text>
<text x="66.30" y="480.00" text-anchor="start" fill="#666" style="font-size:4.0px">10<tspan dy="-1.5" style="font-size:3.0px">3</tspan></text>
<text x="92.30" y="480.00" text-anchor="start" fill="#666" style="font-size:4.0px">10<tspan dy="-1.5" style="font-size:3.0px">4</tspan></text>
<text x="114.70" y="480.00" text-anchor="start" fill="#666" style="font-size:4.0px">10<tspan dy="-1.5" style="font-size:3.0px">5</tspan></text>
<line x1="129.50" y1="472.20" x2="129.50" y2="474.80" stroke="#444" stroke-width="0.8"/>
<line x1="160.60" y1="472.20" x2="160.60" y2="474.80" stroke="#444" stroke-width="0.8"/>
<line x1="186.60" y1="472.20" x2="186.60" y2="474.80" stroke="#444" stroke-width="0.8"/>
<line x1="209.00" y1="472.20" x2="209.00" y2="474.80" stroke="#444" stroke-width="0.8"/>
<line x1="132.60" y1="472.20" x2="132.60" y2="473.70" stroke="#444" stroke-width="0.6"/>
<line x1="135.70" y1="472.20" x2="135.70" y2="473.70" stroke="#444" stroke-width="0.6"/>
<line x1="138.80" y1="472.20" x2="138.80" y2="473.70" stroke="#444" stroke-width="0.6"/>
<line x1="141.90" y1="472.20" x2="141.90" y2="473.70" stroke="#444" stroke-width="0.6"/>
<line x1="148.12" y1="472.20" x2="148.12" y2="473.70" stroke="#444" stroke-width="0.6"/>
<line x1="151.24" y1="472.20" x2="151.24" y2="473.70" stroke="#444" stroke-width="0.6"/>
<line x1="154.36" y1="472.20" x2="154.36" y2="473.70" stroke="#444" stroke-width="0.6"/>
<line x1="157.48" y1="472.20" x2="157.48" y2="473.70" stroke="#444" stroke-width="0.6"/>
<line x1="168.43" y1="472.20" x2="168.43" y2="473.70" stroke="#444" stroke-width="0.6"/>
<line x1="173.01" y1="472.20" x2="173.01" y2="473.70" stroke="#444" stroke-width="0.6"/>
<line x1="176.25" y1="472.20" x2="176.25" y2="473.70" stroke="#444" stroke-width="0.6"/>
<line x1="178.77" y1="472.20" x2="178.77" y2="473.70" stroke="#444" stroke-width="0.6"/>
<line x1="180.83" y1="472.20" x2="180.83" y2="473.70" stroke="#444" stroke-width="0.6"/>
<line x1="182.57" y1="472.20" x2="182.57" y2="473.70" stroke="#444" stroke-width="0.6"/>
<line x1="184.08" y1="472.20" x2="184.08" y2="473.70" stroke="#444" stroke-width="0.6"/>
<line x1="185.41" y1="472.20" x2="185.41" y2="473.70" stroke="#444" stroke-width="0.6"/>
<line x1="193.34" y1="472.20" x2="193.34" y2="473.70" stroke="#444" stroke-width="0.6"/>
<line x1="197.29" y1="472.20" x2="197.29" y2="473.70" stroke="#444" stroke-width="0.6"/>
<line x1="200.09" y1="472.20" x2="200.09" y2="473.70" stroke="#444" stroke-width="0.6"/>
<line x1="202.26" y1="472.20" x2="202.26" y2="473.70" stroke="#444" stroke-width="0.6"/>
<line x1="204.03" y1="472.20" x2="204.03" y2="473.70" stroke="#444" stroke-width="0.6"/>
<line x1="205.53" y1="472.20" x2="205.53" y2="473.70" stroke="#444" stroke-width="0.6"/>
<line x1="206.83" y1="472.20" x2="206.83" y2="473.70" stroke="#444" stroke-width="0.6"/>
<line x1="207.98" y1="472.20" x2="207.98" y2="473.70" stroke="#444" stroke-width="0.6"/>
<line x1="215.74" y1="472.20" x2="215.74" y2="473.70" stroke="#444" stroke-width="0.6"/>
<rect x="142.80" y="472.20" width="3.6" height="2.2" fill="#111"/>
<text x="128.50" y="480.00" text-anchor="start" fill="#666" style="font-size:4.0px">-10<tspan dy="-1.5" style="font-size:3.0px">3</tspan></text>
<text x="145.30" y="480.00" text-anchor="middle" fill="#666" style="font-size:4.0px">0</text>
<text x="160.30" y="480.00" text-anchor="start" fill="#666" style="font-size:4.0px">10<tspan dy="-1.5" style="font-size:3.0px">3</tspan></text>
<text x="186.30" y="480.00" text-anchor="start" fill="#666" style="font-size:4.0px">10<tspan dy="-1.5" style="font-size:3.0px">4</tspan></text>
<text x="208.70" y="480.00" text-anchor="start" fill="#666" style="font-size:4.0px">10<tspan dy="-1.5" style="font-size:3.0px">5</tspan></text>
<line x1="223.50" y1="472.20" x2="223.50" y2="474.80" stroke="#444" stroke-width="0.8"/>
<line x1="254.60" y1="472.20" x2="254.60" y2="474.80" stroke="#444" stroke-width="0.8"/>
<line x1="280.60" y1="472.20" x2="280.60" y2="474.80" stroke="#444" stroke-width="0.8"/>
<line x1="303.00" y1="472.20" x2="303.00" y2="474.80" stroke="#444" stroke-width="0.8"/>
<line x1="226.60" y1="472.20" x2="226.60" y2="473.70" stroke="#444" stroke-width="0.6"/>
<line x1="229.70" y1="472.20" x2="229.70" y2="473.70" stroke="#444" stroke-width="0.6"/>
<line x1="232.80" y1="472.20" x2="232.80" y2="473.70" stroke="#444" stroke-width="0.6"/>
<line x1="235.90" y1="472.20" x2="235.90" y2="473.70" stroke="#444" stroke-width="0.6"/>
<line x1="242.12" y1="472.20" x2="242.12" y2="473.70" stroke="#444" stroke-width="0.6"/>
<line x1="245.24" y1="472.20" x2="245.24" y2="473.70" stroke="#444" stroke-width="0.6"/>
<line x1="248.36" y1="472.20" x2="248.36" y2="473.70" stroke="#444" stroke-width="0.6"/>
<line x1="251.48" y1="472.20" x2="251.48" y2="473.70" stroke="#444" stroke-width="0.6"/>
<line x1="262.43" y1="472.20" x2="262.43" y2="473.70" stroke="#444" stroke-width="0.6"/>
<line x1="267.01" y1="472.20" x2="267.01" y2="473.70" stroke="#444" stroke-width="0.6"/>
<line x1="270.25" y1="472.20" x2="270.25" y2="473.70" stroke="#444" stroke-width="0.6"/>
<line x1="272.77" y1="472.20" x2="272.77" y2="473.70" stroke="#444" stroke-width="0.6"/>
<line x1="274.83" y1="472.20" x2="274.83" y2="473.70" stroke="#444" stroke-width="0.6"/>
<line x1="276.57" y1="472.20" x2="276.57" y2="473.70" stroke="#444" stroke-width="0.6"/>
<line x1="278.08" y1="472.20" x2="278.08" y2="473.70" stroke="#444" stroke-width="0.6"/>
<line x1="279.41" y1="472.20" x2="279.41" y2="473.70" stroke="#444" stroke-width="0.6"/>
<line x1="287.34" y1="472.20" x2="287.34" y2="473.70" stroke="#444" stroke-width="0.6"/>
<line x1="291.29" y1="472.20" x2="291.29" y2="473.70" stroke="#444" stroke-width="0.6"/>
<line x1="294.09" y1="472.20" x2="294.09" y2="473.70" stroke="#444" stroke-width="0.6"/>
<line x1="296.26" y1="472.20" x2="296.26" y2="473.70" stroke="#444" stroke-width="0.6"/>
<line x1="298.03" y1="472.20" x2="298.03" y2="473.70" stroke="#444" stroke-width="0.6"/>
<line x1="299.53" y1="472.20" x2="299.53" y2="473.70" stroke="#444" stroke-width="0.6"/>
<line x1="300.83" y1="472.20" x2="300.83" y2="473.70" stroke="#444" stroke-width="0.6"/>
<line x1="301.98" y1="472.20" x2="301.98" y2="473.70" stroke="#444" stroke-width="0.6"/>
<line x1="309.74" y1="472.20" x2="309.74" y2="473.70" stroke="#444" stroke-width="0.6"/>
<rect x="236.80" y="472.20" width="3.6" height="2.2" fill="#111"/>
<text x="222.50" y="480.00" text-anchor="start" fill="#666" style="font-size:4.0px">-10<tspan dy="-1.5" style="font-size:3.0px">3</tspan></text>
<text x="239.30" y="480.00" text-anchor="middle" fill="#666" style="font-size:4.0px">0</text>
<text x="254.30" y="480.00" text-anchor="start" fill="#666" style="font-size:4.0px">10<tspan dy="-1.5" style="font-size:3.0px">3</tspan></text>
<text x="280.30" y="480.00" text-anchor="start" fill="#666" style="font-size:4.0px">10<tspan dy="-1.5" style="font-size:3.0px">4</tspan></text>
<text x="302.70" y="480.00" text-anchor="start" fill="#666" style="font-size:4.0px">10<tspan dy="-1.5" style="font-size:3.0px">5</tspan></text>
<line x1="27.20" y1="465.20" x2="29.80" y2="465.20" stroke="#444" stroke-width="0.8"/>
<line x1="27.20" y1="434.30" x2="29.80" y2="434.30" stroke="#444" stroke-width="0.8"/>
<line x1="27.20" y1="409.00" x2="29.80" y2="409.00" stroke="#444" stroke-width="0.8"/>
<line x1="27.20" y1="386.00" x2="29.80" y2="386.00" stroke="#444" stroke-width="0.8"/>
<line x1="28.30" y1="462.10" x2="29.80" y2="462.10" stroke="#444" stroke-width="0.6"/>
<line x1="28.30" y1="459.00" x2="29.80" y2="459.00" stroke="#444" stroke-width="0.6"/>
<line x1="28.30" y1="455.90" x2="29.80" y2="455.90" stroke="#444" stroke-width="0.6"/>
<line x1="28.30" y1="452.80" x2="29.80" y2="452.80" stroke="#444" stroke-width="0.6"/>
<line x1="28.30" y1="446.62" x2="29.80" y2="446.62" stroke="#444" stroke-width="0.6"/>
<line x1="28.30" y1="443.54" x2="29.80" y2="443.54" stroke="#444" stroke-width="0.6"/>
<line x1="28.30" y1="440.46" x2="29.80" y2="440.46" stroke="#444" stroke-width="0.6"/>
<line x1="28.30" y1="437.38" x2="29.80" y2="437.38" stroke="#444" stroke-width="0.6"/>
<line x1="28.30" y1="426.68" x2="29.80" y2="426.68" stroke="#444" stroke-width="0.6"/>
<line x1="28.30" y1="422.23" x2="29.80" y2="422.23" stroke="#444" stroke-width="0.6"/>
<line x1="28.30" y1="419.07" x2="29.80" y2="419.07" stroke="#444" stroke-width="0.6"/>
<line x1="28.30" y1="416.62" x2="29.80" y2="416.62" stroke="#444" stroke-width="0.6"/>
<line x1="28.30" y1="414.61" x2="29.80" y2="414.61" stroke="#444" stroke-width="0.6"/>
<line x1="28.30" y1="412.92" x2="29.80" y2="412.92" stroke="#444" stroke-width="0.6"/>
<line x1="28.30" y1="411.45" x2="29.80" y2="411.45" stroke="#444" stroke-width="0.6"/>
<line x1="28.30" y1="410.16" x2="29.80" y2="410.16" stroke="#444" stroke-width="0.6"/>
<line x1="28.30" y1="402.08" x2="29.80" y2="402.08" stroke="#444" stroke-width="0.6"/>
<line x1="28.30" y1="398.03" x2="29.80" y2="398.03" stroke="#444" stroke-width="0.6"/>
<line x1="28.30" y1="395.15" x2="29.80" y2="395.15" stroke="#444" stroke-width="0.6"/>
<line x1="28.30" y1="392.92" x2="29.80" y2="392.92" stroke="#444" stroke-width="0.6"/>
<line x1="28.30" y1="391.10" x2="29.80" y2="391.10" stroke="#444" stroke-width="0.6"/>
<line x1="28.30" y1="389.56" x2="29.80" y2="389.56" stroke="#444" stroke-width="0.6"/>
<line x1="28.30" y1="388.23" x2="29.80" y2="388.23" stroke="#444" stroke-width="0.6"/>
<line x1="28.30" y1="387.05" x2="29.80" y2="387.05" stroke="#444" stroke-width="0.6"/>
<line x1="28.30" y1="379.08" x2="29.80" y2="379.08" stroke="#444" stroke-width="0.6"/>
<line x1="28.30" y1="375.03" x2="29.80" y2="375.03" stroke="#444" stroke-width="0.6"/>
<rect x="27.20" y="448.10" width="2.4" height="3.4" fill="#111"/>
<text x="21.20" y="466.20" text-anchor="start" fill="#666" style="font-size:4.0px">-10<tspan dy="-1.5" style="font-size:3.0px">3</tspan></text>
<text x="24.60" y="450.90" text-anchor="middle" fill="#666" style="font-size:4.0px">0</text>
<text x="21.80" y="435.30" text-anchor="start" fill="#666" style="font-size:4.0px">10<tspan dy="-1.5" style="font-size:3.0px">3</tspan></text>
<text x="21.80" y="410.00" text-anchor="start" fill="#666" style="font-size:4.0px">10<tspan dy="-1.5" style="font-size:3.0px">4</tspan></text>
<text x="21.80" y="387.00" text-anchor="start" fill="#666" style="font-size:4.0px">10<tspan dy="-1.5" style="font-size:3.0px">5</tspan></text>
<line x1="367.70" y1="471.70" x2="367.70" y2="474.30" stroke="#444" stroke-width="0.8"/>
<line x1="400.60" y1="471.70" x2="400.60" y2="474.30" stroke="#444" stroke-width="0.8"/>
<line x1="426.00" y1="471.70" x2="426.00" y2="474.30" stroke="#444" stroke-width="0.8"/>
<line x1="449.20" y1="471.70" x2="449.20" y2="474.30" stroke="#444" stroke-width="0.8"/>
<line x1="370.84" y1="471.70" x2="370.84" y2="473.20" stroke="#444" stroke-width="0.6"/>
<line x1="373.98" y1="471.70" x2="373.98" y2="473.20" stroke="#444" stroke-width="0.6"/>
<line x1="377.12" y1="471.70" x2="377.12" y2="473.20" stroke="#444" stroke-width="0.6"/>
<line x1="380.26" y1="471.70" x2="380.26" y2="473.20" stroke="#444" stroke-width="0.6"/>
<line x1="386.84" y1="471.70" x2="386.84" y2="473.20" stroke="#444" stroke-width="0.6"/>
<line x1="390.28" y1="471.70" x2="390.28" y2="473.20" stroke="#444" stroke-width="0.6"/>
<line x1="393.72" y1="471.70" x2="393.72" y2="473.20" stroke="#444" stroke-width="0.6"/>
<line x1="397.16" y1="471.70" x2="397.16" y2="473.20" stroke="#444" stroke-width="0.6"/>
<line x1="408.25" y1="471.70" x2="408.25" y2="473.20" stroke="#444" stroke-width="0.6"/>
<line x1="412.72" y1="471.70" x2="412.72" y2="473.20" stroke="#444" stroke-width="0.6"/>
<line x1="415.89" y1="471.70" x2="415.89" y2="473.20" stroke="#444" stroke-width="0.6"/>
<line x1="418.35" y1="471.70" x2="418.35" y2="473.20" stroke="#444" stroke-width="0.6"/>
<line x1="420.37" y1="471.70" x2="420.37" y2="473.20" stroke="#444" stroke-width="0.6"/>
<line x1="422.07" y1="471.70" x2="422.07" y2="473.20" stroke="#444" stroke-width="0.6"/>
<line x1="423.54" y1="471.70" x2="423.54" y2="473.20" stroke="#444" stroke-width="0.6"/>
<line x1="424.84" y1="471.70" x2="424.84" y2="473.20" stroke="#444" stroke-width="0.6"/>
<line x1="432.98" y1="471.70" x2="432.98" y2="473.20" stroke="#444" stroke-width="0.6"/>
<line x1="437.07" y1="471.70" x2="437.07" y2="473.20" stroke="#444" stroke-width="0.6"/>
<line x1="439.97" y1="471.70" x2="439.97" y2="473.20" stroke="#444" stroke-width="0.6"/>
<line x1="442.22" y1="471.70" x2="442.22" y2="473.20" stroke="#444" stroke-width="0.6"/>
<line x1="444.05" y1="471.70" x2="444.05" y2="473.20" stroke="#444" stroke-width="0.6"/>
<line x1="445.61" y1="471.70" x2="445.61" y2="473.20" stroke="#444" stroke-width="0.6"/>
<line x1="446.95" y1="471.70" x2="446.95" y2="473.20" stroke="#444" stroke-width="0.6"/>
<line x1="448.14" y1="471.70" x2="448.14" y2="473.20" stroke="#444" stroke-width="0.6"/>
<line x1="456.18" y1="471.70" x2="456.18" y2="473.20" stroke="#444" stroke-width="0.6"/>
<rect x="381.20" y="471.70" width="3.6" height="2.2" fill="#111"/>
<text x="366.70" y="479.50" text-anchor="start" fill="#666" style="font-size:4.0px">-10<tspan dy="-1.5" style="font-size:3.0px">3</tspan></text>
<text x="383.70" y="479.50" text-anchor="middle" fill="#666" style="font-size:4.0px">0</text>
<text x="400.30" y="479.50" text-anchor="start" fill="#666" style="font-size:4.0px">10<tspan dy="-1.5" style="font-size:3.0px">3</tspan></text>
<text x="425.70" y="479.50" text-anchor="start" fill="#666" style="font-size:4.0px">10<tspan dy="-1.5" style="font-size:3.0px">4</tspan></text>
<text x="448.90" y="479.50" text-anchor="start" fill="#666" style="font-size:4.0px">10<tspan dy="-1.5" style="font-size:3.0px">5</tspan></text>
<line x1="463.60" y1="471.70" x2="463.60" y2="474.30" stroke="#444" stroke-width="0.8"/>
<line x1="496.50" y1="471.70" x2="496.50" y2="474.30" stroke="#444" stroke-width="0.8"/>
<line x1="521.90" y1="471.70" x2="521.90" y2="474.30" stroke="#444" stroke-width="0.8"/>
<line x1="545.10" y1="471.70" x2="545.10" y2="474.30" stroke="#444" stroke-width="0.8"/>
<line x1="466.74" y1="471.70" x2="466.74" y2="473.20" stroke="#444" stroke-width="0.6"/>
<line x1="469.88" y1="471.70" x2="469.88" y2="473.20" stroke="#444" stroke-width="0.6"/>
<line x1="473.02" y1="471.70" x2="473.02" y2="473.20" stroke="#444" stroke-width="0.6"/>
<line x1="476.16" y1="471.70" x2="476.16" y2="473.20" stroke="#444" stroke-width="0.6"/>
<line x1="482.74" y1="471.70" x2="482.74" y2="473.20" stroke="#444" stroke-width="0.6"/>
<line x1="486.18" y1="471.70" x2="486.18" y2="473.20" stroke="#444" stroke-width="0.6"/>
<line x1="489.62" y1="471.70" x2="489.62" y2="473.20" stroke="#444" stroke-width="0.6"/>
<line x1="493.06" y1="471.70" x2="493.06" y2="473.20" stroke="#444" stroke-width="0.6"/>
<line x1="504.15" y1="471.70" x2="504.15" y2="473.20" stroke="#444" stroke-width="0.6"/>
<line x1="508.62" y1="471.70" x2="508.62" y2="473.20" stroke="#444" stroke-width="0.6"/>
<line x1="511.79" y1="471.70" x2="511.79" y2="473.20" stroke="#444" stroke-width="0.6"/>
<line x1="514.25" y1="471.70" x2="514.25" y2="473.20" stroke="#444" stroke-width="0.6"/>
<line x1="516.27" y1="471.70" x2="516.27" y2="473.20" stroke="#444" stroke-width="0.6"/>
<line x1="517.97" y1="471.70" x2="517.97" y2="473.20" stroke="#444" stroke-width="0.6"/>
<line x1="519.44" y1="471.70" x2="519.44" y2="473.20" stroke="#444" stroke-width="0.6"/>
<line x1="520.74" y1="471.70" x2="520.74" y2="473.20" stroke="#444" stroke-width="0.6"/>
<line x1="528.88" y1="471.70" x2="528.88" y2="473.20" stroke="#444" stroke-width="0.6"/>
<line x1="532.97" y1="471.70" x2="532.97" y2="473.20" stroke="#444" stroke-width="0.6"/>
<line x1="535.87" y1="471.70" x2="535.87" y2="473.20" stroke="#444" stroke-width="0.6"/>
<line x1="538.12" y1="471.70" x2="538.12" y2="473.20" stroke="#444" stroke-width="0.6"/>
<line x1="539.95" y1="471.70" x2="539.95" y2="473.20" stroke="#444" stroke-width="0.6"/>
<line x1="541.51" y1="471.70" x2="541.51" y2="473.20" stroke="#444" stroke-width="0.6"/>
<line x1="542.85" y1="471.70" x2="542.85" y2="473.20" stroke="#444" stroke-width="0.6"/>
<line x1="544.04" y1="471.70" x2="544.04" y2="473.20" stroke="#444" stroke-width="0.6"/>
<line x1="552.08" y1="471.70" x2="552.08" y2="473.20" stroke="#444" stroke-width="0.6"/>
<rect x="477.10" y="471.70" width="3.6" height="2.2" fill="#111"/>
<text x="462.60" y="479.50" text-anchor="start" fill="#666" style="font-size:4.0px">-10<tspan dy="-1.5" style="font-size:3.0px">3</tspan></text>
<text x="479.60" y="479.50" text-anchor="middle" fill="#666" style="font-size:4.0px">0</text>
<text x="496.20" y="479.50" text-anchor="start" fill="#666" style="font-size:4.0px">10<tspan dy="-1.5" style="font-size:3.0px">3</tspan></text>
<text x="521.60" y="479.50" text-anchor="start" fill="#666" style="font-size:4.0px">10<tspan dy="-1.5" style="font-size:3.0px">4</tspan></text>
<text x="544.80" y="479.50" text-anchor="start" fill="#666" style="font-size:4.0px">10<tspan dy="-1.5" style="font-size:3.0px">5</tspan></text>
<line x1="559.50" y1="471.70" x2="559.50" y2="474.30" stroke="#444" stroke-width="0.8"/>
<line x1="592.40" y1="471.70" x2="592.40" y2="474.30" stroke="#444" stroke-width="0.8"/>
<line x1="617.80" y1="471.70" x2="617.80" y2="474.30" stroke="#444" stroke-width="0.8"/>
<line x1="641.00" y1="471.70" x2="641.00" y2="474.30" stroke="#444" stroke-width="0.8"/>
<line x1="562.64" y1="471.70" x2="562.64" y2="473.20" stroke="#444" stroke-width="0.6"/>
<line x1="565.78" y1="471.70" x2="565.78" y2="473.20" stroke="#444" stroke-width="0.6"/>
<line x1="568.92" y1="471.70" x2="568.92" y2="473.20" stroke="#444" stroke-width="0.6"/>
<line x1="572.06" y1="471.70" x2="572.06" y2="473.20" stroke="#444" stroke-width="0.6"/>
<line x1="578.64" y1="471.70" x2="578.64" y2="473.20" stroke="#444" stroke-width="0.6"/>
<line x1="582.08" y1="471.70" x2="582.08" y2="473.20" stroke="#444" stroke-width="0.6"/>
<line x1="585.52" y1="471.70" x2="585.52" y2="473.20" stroke="#444" stroke-width="0.6"/>
<line x1="588.96" y1="471.70" x2="588.96" y2="473.20" stroke="#444" stroke-width="0.6"/>
<line x1="600.05" y1="471.70" x2="600.05" y2="473.20" stroke="#444" stroke-width="0.6"/>
<line x1="604.52" y1="471.70" x2="604.52" y2="473.20" stroke="#444" stroke-width="0.6"/>
<line x1="607.69" y1="471.70" x2="607.69" y2="473.20" stroke="#444" stroke-width="0.6"/>
<line x1="610.15" y1="471.70" x2="610.15" y2="473.20" stroke="#444" stroke-width="0.6"/>
<line x1="612.17" y1="471.70" x2="612.17" y2="473.20" stroke="#444" stroke-width="0.6"/>
<line x1="613.87" y1="471.70" x2="613.87" y2="473.20" stroke="#444" stroke-width="0.6"/>
<line x1="615.34" y1="471.70" x2="615.34" y2="473.20" stroke="#444" stroke-width="0.6"/>
<line x1="616.64" y1="471.70" x2="616.64" y2="473.20" stroke="#444" stroke-width="0.6"/>
<line x1="624.78" y1="471.70" x2="624.78" y2="473.20" stroke="#444" stroke-width="0.6"/>
<line x1="628.87" y1="471.70" x2="628.87" y2="473.20" stroke="#444" stroke-width="0.6"/>
<line x1="631.77" y1="471.70" x2="631.77" y2="473.20" stroke="#444" stroke-width="0.6"/>
<line x1="634.02" y1="471.70" x2="634.02" y2="473.20" stroke="#444" stroke-width="0.6"/>
<line x1="635.85" y1="471.70" x2="635.85" y2="473.20" stroke="#444" stroke-width="0.6"/>
<line x1="637.41" y1="471.70" x2="637.41" y2="473.20" stroke="#444" stroke-width="0.6"/>
<line x1="638.75" y1="471.70" x2="638.75" y2="473.20" stroke="#444" stroke-width="0.6"/>
<line x1="639.94" y1="471.70" x2="639.94" y2="473.20" stroke="#444" stroke-width="0.6"/>
<line x1="647.98" y1="471.70" x2="647.98" y2="473.20" stroke="#444" stroke-width="0.6"/>
<rect x="573.00" y="471.70" width="3.6" height="2.2" fill="#111"/>
<text x="558.50" y="479.50" text-anchor="start" fill="#666" style="font-size:4.0px">-10<tspan dy="-1.5" style="font-size:3.0px">3</tspan></text>
<text x="575.50" y="479.50" text-anchor="middle" fill="#666" style="font-size:4.0px">0</text>
<text x="592.10" y="479.50" text-anchor="start" fill="#666" style="font-size:4.0px">10<tspan dy="-1.5" style="font-size:3.0px">3</tspan></text>
<text x="617.50" y="479.50" text-anchor="start" fill="#666" style="font-size:4.0px">10<tspan dy="-1.5" style="font-size:3.0px">4</tspan></text>
<text x="640.70" y="479.50" text-anchor="start" fill="#666" style="font-size:4.0px">10<tspan dy="-1.5" style="font-size:3.0px">5</tspan></text>
<line x1="359.00" y1="465.30" x2="361.60" y2="465.30" stroke="#444" stroke-width="0.8"/>
<line x1="359.00" y1="434.30" x2="361.60" y2="434.30" stroke="#444" stroke-width="0.8"/>
<line x1="359.00" y1="408.20" x2="361.60" y2="408.20" stroke="#444" stroke-width="0.8"/>
<line x1="359.00" y1="385.20" x2="361.60" y2="385.20" stroke="#444" stroke-width="0.8"/>
<line x1="360.10" y1="462.30" x2="361.60" y2="462.30" stroke="#444" stroke-width="0.6"/>
<line x1="360.10" y1="459.30" x2="361.60" y2="459.30" stroke="#444" stroke-width="0.6"/>
<line x1="360.10" y1="456.30" x2="361.60" y2="456.30" stroke="#444" stroke-width="0.6"/>
<line x1="360.10" y1="453.30" x2="361.60" y2="453.30" stroke="#444" stroke-width="0.6"/>
<line x1="360.10" y1="447.10" x2="361.60" y2="447.10" stroke="#444" stroke-width="0.6"/>
<line x1="360.10" y1="443.90" x2="361.60" y2="443.90" stroke="#444" stroke-width="0.6"/>
<line x1="360.10" y1="440.70" x2="361.60" y2="440.70" stroke="#444" stroke-width="0.6"/>
<line x1="360.10" y1="437.50" x2="361.60" y2="437.50" stroke="#444" stroke-width="0.6"/>
<line x1="360.10" y1="426.44" x2="361.60" y2="426.44" stroke="#444" stroke-width="0.6"/>
<line x1="360.10" y1="421.85" x2="361.60" y2="421.85" stroke="#444" stroke-width="0.6"/>
<line x1="360.10" y1="418.59" x2="361.60" y2="418.59" stroke="#444" stroke-width="0.6"/>
<line x1="360.10" y1="416.06" x2="361.60" y2="416.06" stroke="#444" stroke-width="0.6"/>
<line x1="360.10" y1="413.99" x2="361.60" y2="413.99" stroke="#444" stroke-width="0.6"/>
<line x1="360.10" y1="412.24" x2="361.60" y2="412.24" stroke="#444" stroke-width="0.6"/>
<line x1="360.10" y1="410.73" x2="361.60" y2="410.73" stroke="#444" stroke-width="0.6"/>
<line x1="360.10" y1="409.39" x2="361.60" y2="409.39" stroke="#444" stroke-width="0.6"/>
<line x1="360.10" y1="401.28" x2="361.60" y2="401.28" stroke="#444" stroke-width="0.6"/>
<line x1="360.10" y1="397.23" x2="361.60" y2="397.23" stroke="#444" stroke-width="0.6"/>
<line x1="360.10" y1="394.35" x2="361.60" y2="394.35" stroke="#444" stroke-width="0.6"/>
<line x1="360.10" y1="392.12" x2="361.60" y2="392.12" stroke="#444" stroke-width="0.6"/>
<line x1="360.10" y1="390.30" x2="361.60" y2="390.30" stroke="#444" stroke-width="0.6"/>
<line x1="360.10" y1="388.76" x2="361.60" y2="388.76" stroke="#444" stroke-width="0.6"/>
<line x1="360.10" y1="387.43" x2="361.60" y2="387.43" stroke="#444" stroke-width="0.6"/>
<line x1="360.10" y1="386.25" x2="361.60" y2="386.25" stroke="#444" stroke-width="0.6"/>
<line x1="360.10" y1="378.28" x2="361.60" y2="378.28" stroke="#444" stroke-width="0.6"/>
<line x1="360.10" y1="374.23" x2="361.60" y2="374.23" stroke="#444" stroke-width="0.6"/>
<rect x="359.00" y="448.70" width="2.4" height="3.4" fill="#111"/>
<text x="353.00" y="466.30" text-anchor="start" fill="#666" style="font-size:4.0px">-10<tspan dy="-1.5" style="font-size:3.0px">3</tspan></text>
<text x="356.40" y="451.50" text-anchor="middle" fill="#666" style="font-size:4.0px">0</text>
<text x="353.60" y="435.30" text-anchor="start" fill="#666" style="font-size:4.0px">10<tspan dy="-1.5" style="font-size:3.0px">3</tspan></text>
<text x="353.60" y="409.20" text-anchor="start" fill="#666" style="font-size:4.0px">10<tspan dy="-1.5" style="font-size:3.0px">4</tspan></text>
<text x="353.60" y="386.20" text-anchor="start" fill="#666" style="font-size:4.0px">10<tspan dy="-1.5" style="font-size:3.0px">5</tspan></text>
<text x="3.8" y="373.1" style="font-size:9.3px" textLength="52.6" lengthAdjust="spacingAndGlyphs"><tspan style="font-style:italic">Mysm1</tspan>: +/+</text>
<text x="132.50" y="372.70" text-anchor="start" fill="#000" style="font-size:9.9px;" >-/-</text>
<text x="219.00" y="373.40" text-anchor="start" fill="#000" style="font-size:9.8px;" >DN/DN</text>
<text x="339.6" y="373.0" style="font-size:9.3px" textLength="52.6" lengthAdjust="spacingAndGlyphs"><tspan style="font-style:italic">Mysm1</tspan>: +/+</text>
<text x="465.60" y="373.00" text-anchor="start" fill="#000" style="font-size:9.9px;" >-/-</text>
<text x="559.80" y="373.20" text-anchor="start" fill="#000" style="font-size:9.8px;" >DN/DN</text>
<text x="0.20" y="446.90" text-anchor="start" fill="#000" style="font-size:8.9px;" >CD19</text>
<text x="22.50" y="498.70" text-anchor="start" fill="#000" style="font-size:8.6px;" >B220</text>
<text x="335.80" y="447.00" text-anchor="start" fill="#000" style="font-size:8.9px;" >CD8</text>
<text x="360.80" y="498.50" text-anchor="start" fill="#000" style="font-size:8.6px;" >CD4</text>
<path d="M10.60,459.10 L10.60,483.90 L36.20,483.90" fill="none" stroke="#000" stroke-width="1.5"/>
<polygon points="7.20,459.70 10.60,453.10 14.00,459.70" fill="#000"/>
<polygon points="35.60,480.50 42.20,483.90 35.60,487.30" fill="#000"/>
<path d="M346.60,459.60 L346.60,484.00 L372.00,484.00" fill="none" stroke="#000" stroke-width="1.5"/>
<polygon points="343.20,460.20 346.60,453.60 350.00,460.20" fill="#000"/>
<polygon points="371.40,480.60 378.00,484.00 371.40,487.40" fill="#000"/>
<text transform="translate(318.0,377.8) rotate(90)" style="font-size:9.0px" textLength="65.5" lengthAdjust="spacingAndGlyphs">Gated: live cells</text>
<text transform="translate(654.9,375.3) rotate(90)" style="font-size:9.4px" textLength="97.8" lengthAdjust="spacingAndGlyphs">Gated: live CD45+ cells</text>
</svg>
</body></html>
